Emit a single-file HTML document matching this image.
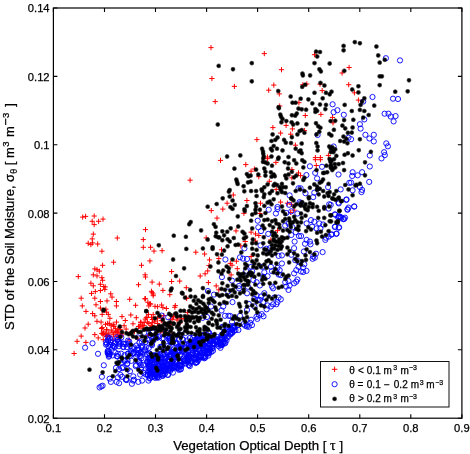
<!DOCTYPE html>
<html><head><meta charset="utf-8"><style>
html,body{margin:0;padding:0;background:#fff;width:470px;height:454px;overflow:hidden}
text{font-family:"Liberation Sans", sans-serif;stroke:#000;stroke-width:0.25px;paint-order:stroke}
</style></head><body>
<div style="position:absolute;left:0;top:0;width:470px;height:454px;will-change:transform"><svg width="470" height="454" viewBox="0 0 470 454" style="display:block"><defs><radialGradient id="sg"><stop offset="0" stop-color="#000"/><stop offset="0.45" stop-color="#000"/><stop offset="0.75" stop-color="#000" stop-opacity="0.55"/><stop offset="1" stop-color="#000" stop-opacity="0"/></radialGradient><circle id="st" r="2.8" fill="url(#sg)"/></defs><rect width="470" height="454" fill="#fff"/><path d="M208.4 47.6h5.2M211.0 45.0v5.2M209.3 78.5h5.2M211.9 75.9v5.2M231.8 86.4h5.2M234.4 83.8v5.2M212.6 101.6h5.2M215.2 99.0v5.2M311.9 54.7h5.2M314.5 52.1v5.2M261.7 53.6h5.2M264.3 51.0v5.2M278.9 69.7h5.2M281.5 67.1v5.2M346.5 67.5h5.2M349.1 64.9v5.2M339.5 73.0h5.2M342.1 70.4v5.2M271.2 85.1h5.2M273.8 82.5v5.2M266.1 90.2h5.2M268.7 87.6v5.2M300.3 84.7h5.2M302.9 82.1v5.2M304.2 84.0h5.2M306.8 81.4v5.2M317.4 84.2h5.2M320.0 81.6v5.2M319.6 90.6h5.2M322.2 88.0v5.2M346.1 84.7h5.2M348.7 82.1v5.2M276.7 93.9h5.2M279.3 91.3v5.2M296.3 102.7h5.2M298.9 100.1v5.2M277.1 106.0h5.2M279.7 103.4v5.2M351.8 92.8h5.2M354.4 90.2v5.2M355.8 100.1h5.2M358.4 97.5v5.2M217.9 160.4h5.2M220.5 157.8v5.2M243.2 164.6h5.2M245.8 162.0v5.2M187.5 180.2h5.2M190.1 177.6v5.2M230.7 195.0h5.2M233.3 192.4v5.2M224.5 203.2h5.2M227.1 200.6v5.2M244.3 200.5h5.2M246.9 197.9v5.2M80.1 217.1h5.2M82.7 214.5v5.2M83.0 216.4h5.2M85.6 213.8v5.2M91.6 216.0h5.2M94.2 213.4v5.2M89.6 221.3h5.2M92.2 218.7v5.2M96.0 221.3h5.2M98.6 218.7v5.2M100.4 219.1h5.2M103.0 216.5v5.2M91.6 224.6h5.2M94.2 222.0v5.2M142.9 229.6h5.2M145.5 227.0v5.2M90.7 234.1h5.2M93.3 231.5v5.2M89.6 238.9h5.2M92.2 236.3v5.2M114.7 238.0h5.2M117.3 235.4v5.2M140.7 239.6h5.2M143.3 237.0v5.2M85.6 243.3h5.2M88.2 240.7v5.2M88.3 244.6h5.2M90.9 242.0v5.2M90.0 242.9h5.2M92.6 240.3v5.2M95.1 244.0h5.2M97.7 241.4v5.2M140.7 247.3h5.2M143.3 244.7v5.2M148.0 247.3h5.2M150.6 244.7v5.2M99.3 251.2h5.2M101.9 248.6v5.2M111.0 262.2h5.2M113.6 259.6v5.2M147.3 260.9h5.2M149.9 258.3v5.2M138.9 265.3h5.2M141.5 262.7v5.2M100.0 265.3h5.2M102.6 262.7v5.2M92.2 268.9h5.2M94.8 266.3v5.2M96.7 271.1h5.2M99.3 268.5v5.2M94.4 269.7h5.2M97.0 267.1v5.2M75.7 276.6h5.2M78.3 274.0v5.2M90.7 274.8h5.2M93.3 272.2v5.2M94.4 275.9h5.2M97.0 273.3v5.2M99.3 277.7h5.2M101.9 275.1v5.2M100.0 280.3h5.2M102.6 277.7v5.2M142.5 274.8h5.2M145.1 272.2v5.2M142.9 277.0h5.2M145.5 274.4v5.2M88.3 283.2h5.2M90.9 280.6v5.2M90.7 285.8h5.2M93.3 283.2v5.2M97.8 284.3h5.2M100.4 281.7v5.2M101.1 286.5h5.2M103.7 283.9v5.2M102.6 286.9h5.2M105.2 284.3v5.2M135.9 284.7h5.2M138.5 282.1v5.2M149.5 282.1h5.2M152.1 279.5v5.2M92.7 291.6h5.2M95.3 289.0v5.2M88.9 293.4h5.2M91.5 290.8v5.2M78.6 298.2h5.2M81.2 295.6v5.2M92.2 298.2h5.2M94.8 295.6v5.2M79.7 305.9h5.2M82.3 303.3v5.2M93.4 304.8h5.2M96.0 302.2v5.2M83.4 311.4h5.2M86.0 308.8v5.2M90.0 313.6h5.2M92.6 311.0v5.2M92.2 315.8h5.2M94.8 313.2v5.2M85.6 324.2h5.2M88.2 321.6v5.2M94.4 321.3h5.2M97.0 318.7v5.2M82.4 328.0h5.2M85.0 325.4v5.2M78.6 336.1h5.2M81.2 333.5v5.2M92.2 334.6h5.2M94.8 332.0v5.2M95.6 337.9h5.2M98.2 335.3v5.2M97.8 290.5h5.2M100.4 287.9v5.2M102.2 289.4h5.2M104.8 286.8v5.2M108.1 293.8h5.2M110.7 291.2v5.2M104.4 300.9h5.2M107.0 298.3v5.2M109.4 297.1h5.2M112.0 294.5v5.2M113.8 301.5h5.2M116.4 298.9v5.2M97.8 301.5h5.2M100.4 298.9v5.2M113.8 305.9h5.2M116.4 303.3v5.2M127.1 299.3h5.2M129.7 296.7v5.2M133.0 305.3h5.2M135.6 302.7v5.2M142.9 298.7h5.2M145.5 296.1v5.2M147.3 303.7h5.2M149.9 301.1v5.2M149.5 292.7h5.2M152.1 290.1v5.2M97.8 308.1h5.2M100.4 305.5v5.2M103.3 309.2h5.2M105.9 306.6v5.2M74.5 341.3h5.2M77.1 338.7v5.2M83.3 342.4h5.2M85.9 339.8v5.2M71.5 353.5h5.2M74.1 350.9v5.2M99.6 314.4h5.2M102.2 311.8v5.2M104.0 312.2h5.2M106.6 309.6v5.2M105.7 314.4h5.2M108.3 311.8v5.2M119.4 316.6h5.2M122.0 314.0v5.2M128.2 315.0h5.2M130.8 312.4v5.2M133.7 317.7h5.2M136.3 315.1v5.2M122.7 320.5h5.2M125.3 317.9v5.2M138.1 322.1h5.2M140.7 319.5v5.2M130.4 323.8h5.2M133.0 321.2v5.2M143.7 317.7h5.2M146.3 315.1v5.2M145.9 314.4h5.2M148.5 311.8v5.2M107.3 318.3h5.2M109.9 315.7v5.2M113.9 322.1h5.2M116.5 319.5v5.2M110.6 324.3h5.2M113.2 321.7v5.2M106.8 323.8h5.2M109.4 321.2v5.2M99.6 327.6h5.2M102.2 325.0v5.2M102.9 324.3h5.2M105.5 321.7v5.2M100.7 332.0h5.2M103.3 329.4v5.2M104.0 329.8h5.2M106.6 327.2v5.2M106.2 333.1h5.2M108.8 330.5v5.2M109.5 332.0h5.2M112.1 329.4v5.2M112.8 328.7h5.2M115.4 326.1v5.2M100.7 339.7h5.2M103.3 337.1v5.2M104.0 336.4h5.2M106.6 333.8v5.2M107.3 336.4h5.2M109.9 333.8v5.2M135.9 326.5h5.2M138.5 323.9v5.2M141.5 325.4h5.2M144.1 322.8v5.2M144.8 322.1h5.2M147.4 319.5v5.2M117.2 327.6h5.2M119.8 325.0v5.2M115.0 332.0h5.2M117.6 329.4v5.2M98.5 322.1h5.2M101.1 319.5v5.2M145.9 335.3h5.2M148.5 332.7v5.2M203.6 237.9h5.2M206.2 235.3v5.2M151.4 251.1h5.2M154.0 248.5v5.2M159.5 250.7h5.2M162.1 248.1v5.2M193.2 252.2h5.2M195.8 249.6v5.2M202.0 254.0h5.2M204.6 251.4v5.2M206.9 259.9h5.2M209.5 257.3v5.2M206.4 265.6h5.2M209.0 263.0v5.2M169.0 271.6h5.2M171.6 269.0v5.2M205.1 270.9h5.2M207.7 268.3v5.2M197.6 276.0h5.2M200.2 273.4v5.2M202.5 273.8h5.2M205.1 271.2v5.2M156.7 284.1h5.2M159.3 281.5v5.2M169.0 281.5h5.2M171.6 278.9v5.2M177.1 281.1h5.2M179.7 278.5v5.2M205.8 282.6h5.2M208.4 280.0v5.2M167.2 294.7h5.2M169.8 292.1v5.2M183.7 287.7h5.2M186.3 285.1v5.2M183.7 298.0h5.2M186.3 295.4v5.2M160.3 290.4h5.2M162.9 287.8v5.2M142.2 298.8h5.2M144.8 296.2v5.2M145.3 302.3h5.2M147.9 299.7v5.2M148.0 304.1h5.2M150.6 301.5v5.2M146.2 305.9h5.2M148.8 303.3v5.2M152.4 306.3h5.2M155.0 303.7v5.2M155.0 306.7h5.2M157.6 304.1v5.2M159.0 305.0h5.2M161.6 302.4v5.2M160.3 307.6h5.2M162.9 305.0v5.2M163.8 308.5h5.2M166.4 305.9v5.2M150.6 314.7h5.2M153.2 312.1v5.2M144.4 317.3h5.2M147.0 314.7v5.2M142.7 319.1h5.2M145.3 316.5v5.2M148.9 317.3h5.2M151.5 314.7v5.2M155.0 318.2h5.2M157.6 315.6v5.2M159.4 318.2h5.2M162.0 315.6v5.2M159.4 320.8h5.2M162.0 318.2v5.2M138.3 322.6h5.2M140.9 320.0v5.2M140.0 325.2h5.2M142.6 322.6v5.2M146.2 323.5h5.2M148.8 320.9v5.2M149.7 322.6h5.2M152.3 320.0v5.2M155.0 323.5h5.2M157.6 320.9v5.2M168.2 319.1h5.2M170.8 316.5v5.2M138.3 327.0h5.2M140.9 324.4v5.2M140.9 328.8h5.2M143.5 326.2v5.2M161.2 315.6h5.2M163.8 313.0v5.2M148.9 291.3h5.2M151.5 288.7v5.2M150.6 294.0h5.2M153.2 291.4v5.2M150.6 295.7h5.2M153.2 293.1v5.2M184.1 298.5h5.2M186.7 295.9v5.2M172.7 305.6h5.2M175.3 303.0v5.2M172.2 307.3h5.2M174.8 304.7v5.2M185.0 312.6h5.2M187.6 310.0v5.2M170.9 317.0h5.2M173.5 314.4v5.2M175.3 317.9h5.2M177.9 315.3v5.2M178.9 318.8h5.2M181.5 316.2v5.2M170.9 316.4h5.2M173.5 313.8v5.2M174.4 320.0h5.2M177.0 317.4v5.2M208.7 210.6h5.2M211.3 208.0v5.2M220.2 209.1h5.2M222.8 206.5v5.2M241.3 213.3h5.2M243.9 210.7v5.2M214.4 218.1h5.2M217.0 215.5v5.2M233.4 230.9h5.2M236.0 228.3v5.2M242.6 241.5h5.2M245.2 238.9v5.2M238.2 245.9h5.2M240.8 243.3v5.2M218.9 249.8h5.2M221.5 247.2v5.2M216.2 258.6h5.2M218.8 256.0v5.2M233.8 261.2h5.2M236.4 258.6v5.2M227.7 263.4h5.2M230.3 260.8v5.2M229.4 265.2h5.2M232.0 262.6v5.2M234.7 268.7h5.2M237.3 266.1v5.2M228.5 274.9h5.2M231.1 272.3v5.2M213.6 285.9h5.2M216.2 283.3v5.2M216.2 289.8h5.2M218.8 287.2v5.2M283.5 125.4h5.2M286.1 122.8v5.2M270.3 127.6h5.2M272.9 125.0v5.2M289.8 128.9h5.2M292.4 126.3v5.2M278.0 133.1h5.2M280.6 130.5v5.2M288.1 134.2h5.2M290.7 131.6v5.2M254.3 139.6h5.2M256.9 137.0v5.2M292.8 145.2h5.2M295.4 142.6v5.2M264.8 157.0h5.2M267.4 154.4v5.2M302.7 115.5h5.2M305.3 112.9v5.2M318.3 114.4h5.2M320.9 111.8v5.2M329.9 117.4h5.2M332.5 114.8v5.2M330.4 122.9h5.2M333.0 120.3v5.2M301.8 130.6h5.2M304.4 128.0v5.2M325.8 155.4h5.2M328.4 152.8v5.2M312.8 157.6h5.2M315.4 155.0v5.2M317.8 157.6h5.2M320.4 155.0v5.2M265.0 158.6h5.2M267.6 156.0v5.2M273.3 162.4h5.2M275.9 159.8v5.2M251.8 169.0h5.2M254.4 166.4v5.2M248.5 171.2h5.2M251.1 168.6v5.2M289.3 169.6h5.2M291.9 167.0v5.2M295.9 172.9h5.2M298.5 170.3v5.2M256.2 176.7h5.2M258.8 174.1v5.2M289.3 177.8h5.2M291.9 175.2v5.2M266.7 181.3h5.2M269.3 178.7v5.2M273.6 189.4h5.2M276.2 186.8v5.2M257.9 203.2h5.2M260.5 200.6v5.2M278.0 202.1h5.2M280.6 199.5v5.2M284.8 203.2h5.2M287.4 200.6v5.2M288.7 204.3h5.2M291.3 201.7v5.2M312.8 159.7h5.2M315.4 157.1v5.2M317.8 159.7h5.2M320.4 157.1v5.2M313.7 165.5h5.2M316.3 162.9v5.2M298.0 175.6h5.2M300.6 173.0v5.2M257.3 213.5h5.2M259.9 210.9v5.2M291.5 210.2h5.2M294.1 207.6v5.2M288.1 212.4h5.2M290.7 209.8v5.2M274.9 230.6h5.2M277.5 228.0v5.2M252.9 233.9h5.2M255.5 231.3v5.2M256.2 235.5h5.2M258.8 232.9v5.2M248.5 232.2h5.2M251.1 229.6v5.2M252.9 241.0h5.2M255.5 238.4v5.2M268.3 239.9h5.2M270.9 237.3v5.2M248.5 256.5h5.2M251.1 253.9v5.2M158.7 320.6h5.2M161.3 318.0v5.2M170.2 319.2h5.2M172.8 316.6v5.2M166.2 324.2h5.2M168.8 321.6v5.2M149.4 326.6h5.2M152.0 324.0v5.2M148.7 325.4h5.2M151.3 322.8v5.2M149.8 319.5h5.2M152.4 316.9v5.2M162.3 332.1h5.2M164.9 329.5v5.2M151.7 321.8h5.2M154.3 319.2v5.2M169.4 334.1h5.2M172.0 331.5v5.2M167.6 324.7h5.2M170.2 322.1v5.2M181.6 318.8h5.2M184.2 316.2v5.2M177.4 322.9h5.2M180.0 320.3v5.2M152.4 320.0h5.2M155.0 317.4v5.2M158.2 331.9h5.2M160.8 329.3v5.2M153.7 327.9h5.2M156.3 325.3v5.2M113.4 331.3h5.2M116.0 328.7v5.2M111.1 326.1h5.2M113.7 323.5v5.2M98.9 328.5h5.2M101.5 325.9v5.2M114.4 332.3h5.2M117.0 329.7v5.2M105.3 335.0h5.2M107.9 332.4v5.2M108.7 330.1h5.2M111.3 327.5v5.2M117.3 336.9h5.2M119.9 334.3v5.2M103.5 334.8h5.2M106.1 332.2v5.2M110.5 339.9h5.2M113.1 337.3v5.2M115.6 329.9h5.2M118.2 327.3v5.2M141.5 322.4h5.2M144.1 319.8v5.2M116.2 335.1h5.2M118.8 332.5v5.2M104.2 329.8h5.2M106.8 327.2v5.2M99.2 333.4h5.2M101.8 330.8v5.2M131.8 331.5h5.2M134.4 328.9v5.2M136.8 326.3h5.2M139.4 323.7v5.2M128.7 331.9h5.2M131.3 329.3v5.2M123.5 329.1h5.2M126.1 326.5v5.2M135.2 338.9h5.2M137.8 336.3v5.2M118.7 333.3h5.2M121.3 330.7v5.2M100.1 334.0h5.2M102.7 331.4v5.2M126.5 339.9h5.2M129.1 337.3v5.2M118.1 335.9h5.2M120.7 333.3v5.2M111.4 326.4h5.2M114.0 323.8v5.2M119.2 334.9h5.2M121.8 332.3v5.2M114.6 336.6h5.2M117.2 334.0v5.2M105.1 323.4h5.2M107.7 320.8v5.2M110.9 334.8h5.2M113.5 332.2v5.2M101.0 334.0h5.2M103.6 331.4v5.2M121.5 325.7h5.2M124.1 323.1v5.2M112.4 332.8h5.2M115.0 330.2v5.2M108.4 325.3h5.2M111.0 322.7v5.2M102.5 334.0h5.2M105.1 331.4v5.2M117.6 329.4h5.2M120.2 326.8v5.2" stroke="#ff0000" stroke-width="1" fill="none"/><path d="M330.0 104.3a2.6 2.6 0 1 0 5.2 0a2.6 2.6 0 1 0 -5.2 0M383.3 58.2a2.6 2.6 0 1 0 5.2 0a2.6 2.6 0 1 0 -5.2 0M397.4 60.4a2.6 2.6 0 1 0 5.2 0a2.6 2.6 0 1 0 -5.2 0M369.9 97.0a2.6 2.6 0 1 0 5.2 0a2.6 2.6 0 1 0 -5.2 0M390.4 98.7a2.6 2.6 0 1 0 5.2 0a2.6 2.6 0 1 0 -5.2 0M395.4 99.0a2.6 2.6 0 1 0 5.2 0a2.6 2.6 0 1 0 -5.2 0M360.6 101.6a2.6 2.6 0 1 0 5.2 0a2.6 2.6 0 1 0 -5.2 0M382.0 113.7a2.6 2.6 0 1 0 5.2 0a2.6 2.6 0 1 0 -5.2 0M385.9 113.7a2.6 2.6 0 1 0 5.2 0a2.6 2.6 0 1 0 -5.2 0M388.1 116.5a2.6 2.6 0 1 0 5.2 0a2.6 2.6 0 1 0 -5.2 0M393.0 116.1a2.6 2.6 0 1 0 5.2 0a2.6 2.6 0 1 0 -5.2 0M391.0 121.4a2.6 2.6 0 1 0 5.2 0a2.6 2.6 0 1 0 -5.2 0M361.7 119.4a2.6 2.6 0 1 0 5.2 0a2.6 2.6 0 1 0 -5.2 0M357.3 124.2a2.6 2.6 0 1 0 5.2 0a2.6 2.6 0 1 0 -5.2 0M358.0 128.6a2.6 2.6 0 1 0 5.2 0a2.6 2.6 0 1 0 -5.2 0M362.8 134.8a2.6 2.6 0 1 0 5.2 0a2.6 2.6 0 1 0 -5.2 0M366.8 138.5a2.6 2.6 0 1 0 5.2 0a2.6 2.6 0 1 0 -5.2 0M371.2 134.8a2.6 2.6 0 1 0 5.2 0a2.6 2.6 0 1 0 -5.2 0M371.2 141.4a2.6 2.6 0 1 0 5.2 0a2.6 2.6 0 1 0 -5.2 0M348.5 139.2a2.6 2.6 0 1 0 5.2 0a2.6 2.6 0 1 0 -5.2 0M383.7 143.4a2.6 2.6 0 1 0 5.2 0a2.6 2.6 0 1 0 -5.2 0M385.3 146.3a2.6 2.6 0 1 0 5.2 0a2.6 2.6 0 1 0 -5.2 0M381.5 152.2a2.6 2.6 0 1 0 5.2 0a2.6 2.6 0 1 0 -5.2 0M382.2 155.1a2.6 2.6 0 1 0 5.2 0a2.6 2.6 0 1 0 -5.2 0M367.2 155.5a2.6 2.6 0 1 0 5.2 0a2.6 2.6 0 1 0 -5.2 0M378.9 158.4a2.6 2.6 0 1 0 5.2 0a2.6 2.6 0 1 0 -5.2 0M367.2 166.5a2.6 2.6 0 1 0 5.2 0a2.6 2.6 0 1 0 -5.2 0M350.0 172.2a2.6 2.6 0 1 0 5.2 0a2.6 2.6 0 1 0 -5.2 0M359.5 172.2a2.6 2.6 0 1 0 5.2 0a2.6 2.6 0 1 0 -5.2 0M355.1 175.3a2.6 2.6 0 1 0 5.2 0a2.6 2.6 0 1 0 -5.2 0M349.6 176.0a2.6 2.6 0 1 0 5.2 0a2.6 2.6 0 1 0 -5.2 0M366.6 181.9a2.6 2.6 0 1 0 5.2 0a2.6 2.6 0 1 0 -5.2 0M348.5 182.6a2.6 2.6 0 1 0 5.2 0a2.6 2.6 0 1 0 -5.2 0M357.3 187.0a2.6 2.6 0 1 0 5.2 0a2.6 2.6 0 1 0 -5.2 0M359.5 189.9a2.6 2.6 0 1 0 5.2 0a2.6 2.6 0 1 0 -5.2 0M358.9 192.1a2.6 2.6 0 1 0 5.2 0a2.6 2.6 0 1 0 -5.2 0M350.0 190.3a2.6 2.6 0 1 0 5.2 0a2.6 2.6 0 1 0 -5.2 0M343.9 199.4a2.6 2.6 0 1 0 5.2 0a2.6 2.6 0 1 0 -5.2 0M336.2 203.4a2.6 2.6 0 1 0 5.2 0a2.6 2.6 0 1 0 -5.2 0M328.1 204.9a2.6 2.6 0 1 0 5.2 0a2.6 2.6 0 1 0 -5.2 0M351.6 206.5a2.6 2.6 0 1 0 5.2 0a2.6 2.6 0 1 0 -5.2 0M345.0 209.3a2.6 2.6 0 1 0 5.2 0a2.6 2.6 0 1 0 -5.2 0M332.2 214.4a2.6 2.6 0 1 0 5.2 0a2.6 2.6 0 1 0 -5.2 0M336.2 216.6a2.6 2.6 0 1 0 5.2 0a2.6 2.6 0 1 0 -5.2 0M338.0 217.0a2.6 2.6 0 1 0 5.2 0a2.6 2.6 0 1 0 -5.2 0M342.4 217.7a2.6 2.6 0 1 0 5.2 0a2.6 2.6 0 1 0 -5.2 0M340.6 219.2a2.6 2.6 0 1 0 5.2 0a2.6 2.6 0 1 0 -5.2 0M332.2 226.9a2.6 2.6 0 1 0 5.2 0a2.6 2.6 0 1 0 -5.2 0M336.2 227.6a2.6 2.6 0 1 0 5.2 0a2.6 2.6 0 1 0 -5.2 0M328.5 234.6a2.6 2.6 0 1 0 5.2 0a2.6 2.6 0 1 0 -5.2 0M334.0 233.5a2.6 2.6 0 1 0 5.2 0a2.6 2.6 0 1 0 -5.2 0M351.6 206.5a2.6 2.6 0 1 0 5.2 0a2.6 2.6 0 1 0 -5.2 0M89.9 343.3a2.6 2.6 0 1 0 5.2 0a2.6 2.6 0 1 0 -5.2 0M82.5 347.7a2.6 2.6 0 1 0 5.2 0a2.6 2.6 0 1 0 -5.2 0M95.4 353.8a2.6 2.6 0 1 0 5.2 0a2.6 2.6 0 1 0 -5.2 0M97.0 387.4a2.6 2.6 0 1 0 5.2 0a2.6 2.6 0 1 0 -5.2 0M105.1 351.3a2.6 2.6 0 1 0 5.2 0a2.6 2.6 0 1 0 -5.2 0M101.2 365.3a2.6 2.6 0 1 0 5.2 0a2.6 2.6 0 1 0 -5.2 0M99.3 376.8a2.6 2.6 0 1 0 5.2 0a2.6 2.6 0 1 0 -5.2 0M98.7 386.4a2.6 2.6 0 1 0 5.2 0a2.6 2.6 0 1 0 -5.2 0M100.0 385.7a2.6 2.6 0 1 0 5.2 0a2.6 2.6 0 1 0 -5.2 0M107.0 378.7a2.6 2.6 0 1 0 5.2 0a2.6 2.6 0 1 0 -5.2 0M108.3 381.9a2.6 2.6 0 1 0 5.2 0a2.6 2.6 0 1 0 -5.2 0M114.0 381.9a2.6 2.6 0 1 0 5.2 0a2.6 2.6 0 1 0 -5.2 0M116.5 383.2a2.6 2.6 0 1 0 5.2 0a2.6 2.6 0 1 0 -5.2 0M115.3 377.4a2.6 2.6 0 1 0 5.2 0a2.6 2.6 0 1 0 -5.2 0M117.8 374.9a2.6 2.6 0 1 0 5.2 0a2.6 2.6 0 1 0 -5.2 0M113.4 367.9a2.6 2.6 0 1 0 5.2 0a2.6 2.6 0 1 0 -5.2 0M116.5 369.1a2.6 2.6 0 1 0 5.2 0a2.6 2.6 0 1 0 -5.2 0M117.8 359.6a2.6 2.6 0 1 0 5.2 0a2.6 2.6 0 1 0 -5.2 0M119.1 362.8a2.6 2.6 0 1 0 5.2 0a2.6 2.6 0 1 0 -5.2 0M112.7 352.6a2.6 2.6 0 1 0 5.2 0a2.6 2.6 0 1 0 -5.2 0M115.3 353.8a2.6 2.6 0 1 0 5.2 0a2.6 2.6 0 1 0 -5.2 0M124.2 380.0a2.6 2.6 0 1 0 5.2 0a2.6 2.6 0 1 0 -5.2 0M129.3 383.8a2.6 2.6 0 1 0 5.2 0a2.6 2.6 0 1 0 -5.2 0M130.6 380.6a2.6 2.6 0 1 0 5.2 0a2.6 2.6 0 1 0 -5.2 0M145.9 380.6a2.6 2.6 0 1 0 5.2 0a2.6 2.6 0 1 0 -5.2 0M135.7 381.9a2.6 2.6 0 1 0 5.2 0a2.6 2.6 0 1 0 -5.2 0M139.5 380.6a2.6 2.6 0 1 0 5.2 0a2.6 2.6 0 1 0 -5.2 0M105.9 346.1a2.6 2.6 0 1 0 5.2 0a2.6 2.6 0 1 0 -5.2 0M105.3 351.0a2.6 2.6 0 1 0 5.2 0a2.6 2.6 0 1 0 -5.2 0M159.0 315.6a2.6 2.6 0 1 0 5.2 0a2.6 2.6 0 1 0 -5.2 0M165.6 317.3a2.6 2.6 0 1 0 5.2 0a2.6 2.6 0 1 0 -5.2 0M205.3 291.0a2.6 2.6 0 1 0 5.2 0a2.6 2.6 0 1 0 -5.2 0M200.0 317.9a2.6 2.6 0 1 0 5.2 0a2.6 2.6 0 1 0 -5.2 0M204.4 317.0a2.6 2.6 0 1 0 5.2 0a2.6 2.6 0 1 0 -5.2 0M241.8 248.4a2.6 2.6 0 1 0 5.2 0a2.6 2.6 0 1 0 -5.2 0M222.8 259.5a2.6 2.6 0 1 0 5.2 0a2.6 2.6 0 1 0 -5.2 0M237.4 257.3a2.6 2.6 0 1 0 5.2 0a2.6 2.6 0 1 0 -5.2 0M240.4 258.6a2.6 2.6 0 1 0 5.2 0a2.6 2.6 0 1 0 -5.2 0M244.4 259.0a2.6 2.6 0 1 0 5.2 0a2.6 2.6 0 1 0 -5.2 0M243.5 270.9a2.6 2.6 0 1 0 5.2 0a2.6 2.6 0 1 0 -5.2 0M219.3 277.1a2.6 2.6 0 1 0 5.2 0a2.6 2.6 0 1 0 -5.2 0M229.4 280.6a2.6 2.6 0 1 0 5.2 0a2.6 2.6 0 1 0 -5.2 0M236.5 285.9a2.6 2.6 0 1 0 5.2 0a2.6 2.6 0 1 0 -5.2 0M245.3 286.8a2.6 2.6 0 1 0 5.2 0a2.6 2.6 0 1 0 -5.2 0M225.5 291.5a2.6 2.6 0 1 0 5.2 0a2.6 2.6 0 1 0 -5.2 0M236.5 288.4a2.6 2.6 0 1 0 5.2 0a2.6 2.6 0 1 0 -5.2 0M244.4 293.3a2.6 2.6 0 1 0 5.2 0a2.6 2.6 0 1 0 -5.2 0M211.4 294.6a2.6 2.6 0 1 0 5.2 0a2.6 2.6 0 1 0 -5.2 0M229.9 302.1a2.6 2.6 0 1 0 5.2 0a2.6 2.6 0 1 0 -5.2 0M246.2 303.9a2.6 2.6 0 1 0 5.2 0a2.6 2.6 0 1 0 -5.2 0M220.6 306.5a2.6 2.6 0 1 0 5.2 0a2.6 2.6 0 1 0 -5.2 0M218.9 310.5a2.6 2.6 0 1 0 5.2 0a2.6 2.6 0 1 0 -5.2 0M208.3 306.5a2.6 2.6 0 1 0 5.2 0a2.6 2.6 0 1 0 -5.2 0M244.4 310.0a2.6 2.6 0 1 0 5.2 0a2.6 2.6 0 1 0 -5.2 0M222.4 315.8a2.6 2.6 0 1 0 5.2 0a2.6 2.6 0 1 0 -5.2 0M225.9 315.8a2.6 2.6 0 1 0 5.2 0a2.6 2.6 0 1 0 -5.2 0M227.7 316.0a2.6 2.6 0 1 0 5.2 0a2.6 2.6 0 1 0 -5.2 0M237.4 315.8a2.6 2.6 0 1 0 5.2 0a2.6 2.6 0 1 0 -5.2 0M229.4 321.9a2.6 2.6 0 1 0 5.2 0a2.6 2.6 0 1 0 -5.2 0M219.7 326.8a2.6 2.6 0 1 0 5.2 0a2.6 2.6 0 1 0 -5.2 0M225.0 326.8a2.6 2.6 0 1 0 5.2 0a2.6 2.6 0 1 0 -5.2 0M240.9 324.1a2.6 2.6 0 1 0 5.2 0a2.6 2.6 0 1 0 -5.2 0M244.4 325.0a2.6 2.6 0 1 0 5.2 0a2.6 2.6 0 1 0 -5.2 0M246.2 326.8a2.6 2.6 0 1 0 5.2 0a2.6 2.6 0 1 0 -5.2 0M331.0 112.2a2.6 2.6 0 1 0 5.2 0a2.6 2.6 0 1 0 -5.2 0M334.8 110.2a2.6 2.6 0 1 0 5.2 0a2.6 2.6 0 1 0 -5.2 0M341.2 114.8a2.6 2.6 0 1 0 5.2 0a2.6 2.6 0 1 0 -5.2 0M315.0 135.0a2.6 2.6 0 1 0 5.2 0a2.6 2.6 0 1 0 -5.2 0M345.9 137.7a2.6 2.6 0 1 0 5.2 0a2.6 2.6 0 1 0 -5.2 0M331.0 146.5a2.6 2.6 0 1 0 5.2 0a2.6 2.6 0 1 0 -5.2 0M295.9 188.3a2.6 2.6 0 1 0 5.2 0a2.6 2.6 0 1 0 -5.2 0M287.0 195.4a2.6 2.6 0 1 0 5.2 0a2.6 2.6 0 1 0 -5.2 0M274.9 207.0a2.6 2.6 0 1 0 5.2 0a2.6 2.6 0 1 0 -5.2 0M286.5 204.8a2.6 2.6 0 1 0 5.2 0a2.6 2.6 0 1 0 -5.2 0M297.0 202.1a2.6 2.6 0 1 0 5.2 0a2.6 2.6 0 1 0 -5.2 0M307.3 166.3a2.6 2.6 0 1 0 5.2 0a2.6 2.6 0 1 0 -5.2 0M319.4 166.8a2.6 2.6 0 1 0 5.2 0a2.6 2.6 0 1 0 -5.2 0M312.6 172.9a2.6 2.6 0 1 0 5.2 0a2.6 2.6 0 1 0 -5.2 0M335.9 174.5a2.6 2.6 0 1 0 5.2 0a2.6 2.6 0 1 0 -5.2 0M303.8 175.1a2.6 2.6 0 1 0 5.2 0a2.6 2.6 0 1 0 -5.2 0M314.5 178.4a2.6 2.6 0 1 0 5.2 0a2.6 2.6 0 1 0 -5.2 0M325.5 187.2a2.6 2.6 0 1 0 5.2 0a2.6 2.6 0 1 0 -5.2 0M346.7 182.8a2.6 2.6 0 1 0 5.2 0a2.6 2.6 0 1 0 -5.2 0M338.1 189.4a2.6 2.6 0 1 0 5.2 0a2.6 2.6 0 1 0 -5.2 0M298.0 188.3a2.6 2.6 0 1 0 5.2 0a2.6 2.6 0 1 0 -5.2 0M302.9 193.2a2.6 2.6 0 1 0 5.2 0a2.6 2.6 0 1 0 -5.2 0M311.7 192.7a2.6 2.6 0 1 0 5.2 0a2.6 2.6 0 1 0 -5.2 0M310.6 197.1a2.6 2.6 0 1 0 5.2 0a2.6 2.6 0 1 0 -5.2 0M343.7 199.9a2.6 2.6 0 1 0 5.2 0a2.6 2.6 0 1 0 -5.2 0M335.9 202.6a2.6 2.6 0 1 0 5.2 0a2.6 2.6 0 1 0 -5.2 0M326.6 204.3a2.6 2.6 0 1 0 5.2 0a2.6 2.6 0 1 0 -5.2 0M298.0 203.2a2.6 2.6 0 1 0 5.2 0a2.6 2.6 0 1 0 -5.2 0M345.9 207.6a2.6 2.6 0 1 0 5.2 0a2.6 2.6 0 1 0 -5.2 0M266.1 209.7a2.6 2.6 0 1 0 5.2 0a2.6 2.6 0 1 0 -5.2 0M274.9 209.1a2.6 2.6 0 1 0 5.2 0a2.6 2.6 0 1 0 -5.2 0M273.3 213.5a2.6 2.6 0 1 0 5.2 0a2.6 2.6 0 1 0 -5.2 0M283.7 213.0a2.6 2.6 0 1 0 5.2 0a2.6 2.6 0 1 0 -5.2 0M288.7 211.3a2.6 2.6 0 1 0 5.2 0a2.6 2.6 0 1 0 -5.2 0M294.8 213.5a2.6 2.6 0 1 0 5.2 0a2.6 2.6 0 1 0 -5.2 0M255.1 220.7a2.6 2.6 0 1 0 5.2 0a2.6 2.6 0 1 0 -5.2 0M255.7 227.3a2.6 2.6 0 1 0 5.2 0a2.6 2.6 0 1 0 -5.2 0M258.4 231.1a2.6 2.6 0 1 0 5.2 0a2.6 2.6 0 1 0 -5.2 0M282.6 225.6a2.6 2.6 0 1 0 5.2 0a2.6 2.6 0 1 0 -5.2 0M285.9 223.4a2.6 2.6 0 1 0 5.2 0a2.6 2.6 0 1 0 -5.2 0M289.8 227.3a2.6 2.6 0 1 0 5.2 0a2.6 2.6 0 1 0 -5.2 0M293.1 232.2a2.6 2.6 0 1 0 5.2 0a2.6 2.6 0 1 0 -5.2 0M265.6 233.9a2.6 2.6 0 1 0 5.2 0a2.6 2.6 0 1 0 -5.2 0M288.7 235.0a2.6 2.6 0 1 0 5.2 0a2.6 2.6 0 1 0 -5.2 0M296.4 236.1a2.6 2.6 0 1 0 5.2 0a2.6 2.6 0 1 0 -5.2 0M292.0 241.6a2.6 2.6 0 1 0 5.2 0a2.6 2.6 0 1 0 -5.2 0M257.9 245.4a2.6 2.6 0 1 0 5.2 0a2.6 2.6 0 1 0 -5.2 0M263.9 248.7a2.6 2.6 0 1 0 5.2 0a2.6 2.6 0 1 0 -5.2 0M267.2 248.2a2.6 2.6 0 1 0 5.2 0a2.6 2.6 0 1 0 -5.2 0M291.5 248.2a2.6 2.6 0 1 0 5.2 0a2.6 2.6 0 1 0 -5.2 0M279.3 255.4a2.6 2.6 0 1 0 5.2 0a2.6 2.6 0 1 0 -5.2 0M288.7 254.8a2.6 2.6 0 1 0 5.2 0a2.6 2.6 0 1 0 -5.2 0M276.0 255.9a2.6 2.6 0 1 0 5.2 0a2.6 2.6 0 1 0 -5.2 0M326.0 208.6a2.6 2.6 0 1 0 5.2 0a2.6 2.6 0 1 0 -5.2 0M344.8 209.7a2.6 2.6 0 1 0 5.2 0a2.6 2.6 0 1 0 -5.2 0M332.6 214.6a2.6 2.6 0 1 0 5.2 0a2.6 2.6 0 1 0 -5.2 0M336.5 216.3a2.6 2.6 0 1 0 5.2 0a2.6 2.6 0 1 0 -5.2 0M338.7 217.9a2.6 2.6 0 1 0 5.2 0a2.6 2.6 0 1 0 -5.2 0M341.5 219.0a2.6 2.6 0 1 0 5.2 0a2.6 2.6 0 1 0 -5.2 0M335.4 217.4a2.6 2.6 0 1 0 5.2 0a2.6 2.6 0 1 0 -5.2 0M304.0 223.4a2.6 2.6 0 1 0 5.2 0a2.6 2.6 0 1 0 -5.2 0M308.4 220.1a2.6 2.6 0 1 0 5.2 0a2.6 2.6 0 1 0 -5.2 0M311.7 221.8a2.6 2.6 0 1 0 5.2 0a2.6 2.6 0 1 0 -5.2 0M316.7 223.4a2.6 2.6 0 1 0 5.2 0a2.6 2.6 0 1 0 -5.2 0M320.5 224.5a2.6 2.6 0 1 0 5.2 0a2.6 2.6 0 1 0 -5.2 0M309.5 226.7a2.6 2.6 0 1 0 5.2 0a2.6 2.6 0 1 0 -5.2 0M313.9 228.4a2.6 2.6 0 1 0 5.2 0a2.6 2.6 0 1 0 -5.2 0M317.8 228.4a2.6 2.6 0 1 0 5.2 0a2.6 2.6 0 1 0 -5.2 0M332.6 226.7a2.6 2.6 0 1 0 5.2 0a2.6 2.6 0 1 0 -5.2 0M336.5 227.3a2.6 2.6 0 1 0 5.2 0a2.6 2.6 0 1 0 -5.2 0M298.5 236.1a2.6 2.6 0 1 0 5.2 0a2.6 2.6 0 1 0 -5.2 0M304.0 239.9a2.6 2.6 0 1 0 5.2 0a2.6 2.6 0 1 0 -5.2 0M307.3 241.6a2.6 2.6 0 1 0 5.2 0a2.6 2.6 0 1 0 -5.2 0M302.4 243.8a2.6 2.6 0 1 0 5.2 0a2.6 2.6 0 1 0 -5.2 0M307.9 244.3a2.6 2.6 0 1 0 5.2 0a2.6 2.6 0 1 0 -5.2 0M329.3 234.4a2.6 2.6 0 1 0 5.2 0a2.6 2.6 0 1 0 -5.2 0M333.7 233.9a2.6 2.6 0 1 0 5.2 0a2.6 2.6 0 1 0 -5.2 0M323.3 237.7a2.6 2.6 0 1 0 5.2 0a2.6 2.6 0 1 0 -5.2 0M326.0 236.6a2.6 2.6 0 1 0 5.2 0a2.6 2.6 0 1 0 -5.2 0M322.7 239.9a2.6 2.6 0 1 0 5.2 0a2.6 2.6 0 1 0 -5.2 0M301.3 251.5a2.6 2.6 0 1 0 5.2 0a2.6 2.6 0 1 0 -5.2 0M320.0 252.1a2.6 2.6 0 1 0 5.2 0a2.6 2.6 0 1 0 -5.2 0M313.4 253.7a2.6 2.6 0 1 0 5.2 0a2.6 2.6 0 1 0 -5.2 0M310.6 256.5a2.6 2.6 0 1 0 5.2 0a2.6 2.6 0 1 0 -5.2 0M248.5 266.8a2.6 2.6 0 1 0 5.2 0a2.6 2.6 0 1 0 -5.2 0M249.6 271.2a2.6 2.6 0 1 0 5.2 0a2.6 2.6 0 1 0 -5.2 0M250.7 280.0a2.6 2.6 0 1 0 5.2 0a2.6 2.6 0 1 0 -5.2 0M254.0 282.2a2.6 2.6 0 1 0 5.2 0a2.6 2.6 0 1 0 -5.2 0M257.3 285.5a2.6 2.6 0 1 0 5.2 0a2.6 2.6 0 1 0 -5.2 0M259.5 266.8a2.6 2.6 0 1 0 5.2 0a2.6 2.6 0 1 0 -5.2 0M261.7 272.3a2.6 2.6 0 1 0 5.2 0a2.6 2.6 0 1 0 -5.2 0M260.6 276.7a2.6 2.6 0 1 0 5.2 0a2.6 2.6 0 1 0 -5.2 0M265.0 276.2a2.6 2.6 0 1 0 5.2 0a2.6 2.6 0 1 0 -5.2 0M268.3 266.8a2.6 2.6 0 1 0 5.2 0a2.6 2.6 0 1 0 -5.2 0M269.4 271.2a2.6 2.6 0 1 0 5.2 0a2.6 2.6 0 1 0 -5.2 0M273.8 271.8a2.6 2.6 0 1 0 5.2 0a2.6 2.6 0 1 0 -5.2 0M277.1 270.1a2.6 2.6 0 1 0 5.2 0a2.6 2.6 0 1 0 -5.2 0M279.3 263.5a2.6 2.6 0 1 0 5.2 0a2.6 2.6 0 1 0 -5.2 0M274.9 267.9a2.6 2.6 0 1 0 5.2 0a2.6 2.6 0 1 0 -5.2 0M276.0 274.5a2.6 2.6 0 1 0 5.2 0a2.6 2.6 0 1 0 -5.2 0M278.2 275.1a2.6 2.6 0 1 0 5.2 0a2.6 2.6 0 1 0 -5.2 0M291.5 273.4a2.6 2.6 0 1 0 5.2 0a2.6 2.6 0 1 0 -5.2 0M293.7 270.1a2.6 2.6 0 1 0 5.2 0a2.6 2.6 0 1 0 -5.2 0M295.9 266.8a2.6 2.6 0 1 0 5.2 0a2.6 2.6 0 1 0 -5.2 0M292.6 260.2a2.6 2.6 0 1 0 5.2 0a2.6 2.6 0 1 0 -5.2 0M295.9 261.3a2.6 2.6 0 1 0 5.2 0a2.6 2.6 0 1 0 -5.2 0M282.6 282.2a2.6 2.6 0 1 0 5.2 0a2.6 2.6 0 1 0 -5.2 0M285.9 281.1a2.6 2.6 0 1 0 5.2 0a2.6 2.6 0 1 0 -5.2 0M283.7 286.6a2.6 2.6 0 1 0 5.2 0a2.6 2.6 0 1 0 -5.2 0M287.0 285.5a2.6 2.6 0 1 0 5.2 0a2.6 2.6 0 1 0 -5.2 0M285.9 289.9a2.6 2.6 0 1 0 5.2 0a2.6 2.6 0 1 0 -5.2 0M291.5 283.3a2.6 2.6 0 1 0 5.2 0a2.6 2.6 0 1 0 -5.2 0M293.7 281.7a2.6 2.6 0 1 0 5.2 0a2.6 2.6 0 1 0 -5.2 0M294.8 279.5a2.6 2.6 0 1 0 5.2 0a2.6 2.6 0 1 0 -5.2 0M269.4 286.6a2.6 2.6 0 1 0 5.2 0a2.6 2.6 0 1 0 -5.2 0M270.5 288.3a2.6 2.6 0 1 0 5.2 0a2.6 2.6 0 1 0 -5.2 0M261.7 293.2a2.6 2.6 0 1 0 5.2 0a2.6 2.6 0 1 0 -5.2 0M258.4 296.5a2.6 2.6 0 1 0 5.2 0a2.6 2.6 0 1 0 -5.2 0M262.8 297.6a2.6 2.6 0 1 0 5.2 0a2.6 2.6 0 1 0 -5.2 0M257.3 299.9a2.6 2.6 0 1 0 5.2 0a2.6 2.6 0 1 0 -5.2 0M260.6 302.1a2.6 2.6 0 1 0 5.2 0a2.6 2.6 0 1 0 -5.2 0M271.6 297.6a2.6 2.6 0 1 0 5.2 0a2.6 2.6 0 1 0 -5.2 0M276.0 297.6a2.6 2.6 0 1 0 5.2 0a2.6 2.6 0 1 0 -5.2 0M278.2 299.3a2.6 2.6 0 1 0 5.2 0a2.6 2.6 0 1 0 -5.2 0M274.9 302.1a2.6 2.6 0 1 0 5.2 0a2.6 2.6 0 1 0 -5.2 0M270.5 304.3a2.6 2.6 0 1 0 5.2 0a2.6 2.6 0 1 0 -5.2 0M273.8 304.3a2.6 2.6 0 1 0 5.2 0a2.6 2.6 0 1 0 -5.2 0M254.0 295.4a2.6 2.6 0 1 0 5.2 0a2.6 2.6 0 1 0 -5.2 0M251.8 298.7a2.6 2.6 0 1 0 5.2 0a2.6 2.6 0 1 0 -5.2 0M255.1 299.9a2.6 2.6 0 1 0 5.2 0a2.6 2.6 0 1 0 -5.2 0M265.0 305.4a2.6 2.6 0 1 0 5.2 0a2.6 2.6 0 1 0 -5.2 0M268.3 306.5a2.6 2.6 0 1 0 5.2 0a2.6 2.6 0 1 0 -5.2 0M251.8 306.5a2.6 2.6 0 1 0 5.2 0a2.6 2.6 0 1 0 -5.2 0M310.0 258.8a2.6 2.6 0 1 0 5.2 0a2.6 2.6 0 1 0 -5.2 0M312.2 257.7a2.6 2.6 0 1 0 5.2 0a2.6 2.6 0 1 0 -5.2 0M301.7 264.3a2.6 2.6 0 1 0 5.2 0a2.6 2.6 0 1 0 -5.2 0M300.6 267.6a2.6 2.6 0 1 0 5.2 0a2.6 2.6 0 1 0 -5.2 0M303.9 270.9a2.6 2.6 0 1 0 5.2 0a2.6 2.6 0 1 0 -5.2 0M298.4 271.5a2.6 2.6 0 1 0 5.2 0a2.6 2.6 0 1 0 -5.2 0M300.6 272.0a2.6 2.6 0 1 0 5.2 0a2.6 2.6 0 1 0 -5.2 0M264.0 309.3a2.6 2.6 0 1 0 5.2 0a2.6 2.6 0 1 0 -5.2 0M253.9 316.7a2.6 2.6 0 1 0 5.2 0a2.6 2.6 0 1 0 -5.2 0M256.5 315.0a2.6 2.6 0 1 0 5.2 0a2.6 2.6 0 1 0 -5.2 0M259.1 314.1a2.6 2.6 0 1 0 5.2 0a2.6 2.6 0 1 0 -5.2 0M260.9 316.3a2.6 2.6 0 1 0 5.2 0a2.6 2.6 0 1 0 -5.2 0M254.7 318.9a2.6 2.6 0 1 0 5.2 0a2.6 2.6 0 1 0 -5.2 0M248.6 319.8a2.6 2.6 0 1 0 5.2 0a2.6 2.6 0 1 0 -5.2 0M247.7 322.9a2.6 2.6 0 1 0 5.2 0a2.6 2.6 0 1 0 -5.2 0M249.4 325.1a2.6 2.6 0 1 0 5.2 0a2.6 2.6 0 1 0 -5.2 0M120.9 346.7a2.6 2.6 0 1 0 5.2 0a2.6 2.6 0 1 0 -5.2 0M147.0 353.6a2.6 2.6 0 1 0 5.2 0a2.6 2.6 0 1 0 -5.2 0M110.5 345.6a2.6 2.6 0 1 0 5.2 0a2.6 2.6 0 1 0 -5.2 0M126.1 343.8a2.6 2.6 0 1 0 5.2 0a2.6 2.6 0 1 0 -5.2 0M112.0 343.4a2.6 2.6 0 1 0 5.2 0a2.6 2.6 0 1 0 -5.2 0M135.2 337.4a2.6 2.6 0 1 0 5.2 0a2.6 2.6 0 1 0 -5.2 0M127.8 345.8a2.6 2.6 0 1 0 5.2 0a2.6 2.6 0 1 0 -5.2 0M104.2 343.6a2.6 2.6 0 1 0 5.2 0a2.6 2.6 0 1 0 -5.2 0M130.9 347.2a2.6 2.6 0 1 0 5.2 0a2.6 2.6 0 1 0 -5.2 0M106.2 356.7a2.6 2.6 0 1 0 5.2 0a2.6 2.6 0 1 0 -5.2 0M138.1 356.4a2.6 2.6 0 1 0 5.2 0a2.6 2.6 0 1 0 -5.2 0M108.0 342.3a2.6 2.6 0 1 0 5.2 0a2.6 2.6 0 1 0 -5.2 0M105.1 352.6a2.6 2.6 0 1 0 5.2 0a2.6 2.6 0 1 0 -5.2 0M115.3 339.6a2.6 2.6 0 1 0 5.2 0a2.6 2.6 0 1 0 -5.2 0M122.0 355.2a2.6 2.6 0 1 0 5.2 0a2.6 2.6 0 1 0 -5.2 0M139.4 342.2a2.6 2.6 0 1 0 5.2 0a2.6 2.6 0 1 0 -5.2 0M110.0 355.4a2.6 2.6 0 1 0 5.2 0a2.6 2.6 0 1 0 -5.2 0M128.5 351.0a2.6 2.6 0 1 0 5.2 0a2.6 2.6 0 1 0 -5.2 0M107.3 338.2a2.6 2.6 0 1 0 5.2 0a2.6 2.6 0 1 0 -5.2 0M133.7 345.5a2.6 2.6 0 1 0 5.2 0a2.6 2.6 0 1 0 -5.2 0M106.6 355.8a2.6 2.6 0 1 0 5.2 0a2.6 2.6 0 1 0 -5.2 0M131.3 353.0a2.6 2.6 0 1 0 5.2 0a2.6 2.6 0 1 0 -5.2 0M107.1 354.1a2.6 2.6 0 1 0 5.2 0a2.6 2.6 0 1 0 -5.2 0M106.3 354.3a2.6 2.6 0 1 0 5.2 0a2.6 2.6 0 1 0 -5.2 0M123.4 343.8a2.6 2.6 0 1 0 5.2 0a2.6 2.6 0 1 0 -5.2 0M127.7 355.5a2.6 2.6 0 1 0 5.2 0a2.6 2.6 0 1 0 -5.2 0M115.2 339.6a2.6 2.6 0 1 0 5.2 0a2.6 2.6 0 1 0 -5.2 0M126.6 341.8a2.6 2.6 0 1 0 5.2 0a2.6 2.6 0 1 0 -5.2 0M108.2 340.2a2.6 2.6 0 1 0 5.2 0a2.6 2.6 0 1 0 -5.2 0M105.6 341.0a2.6 2.6 0 1 0 5.2 0a2.6 2.6 0 1 0 -5.2 0M117.1 343.1a2.6 2.6 0 1 0 5.2 0a2.6 2.6 0 1 0 -5.2 0M136.8 342.8a2.6 2.6 0 1 0 5.2 0a2.6 2.6 0 1 0 -5.2 0M125.4 340.6a2.6 2.6 0 1 0 5.2 0a2.6 2.6 0 1 0 -5.2 0M118.7 337.4a2.6 2.6 0 1 0 5.2 0a2.6 2.6 0 1 0 -5.2 0M114.4 337.3a2.6 2.6 0 1 0 5.2 0a2.6 2.6 0 1 0 -5.2 0M135.7 348.0a2.6 2.6 0 1 0 5.2 0a2.6 2.6 0 1 0 -5.2 0M111.7 346.5a2.6 2.6 0 1 0 5.2 0a2.6 2.6 0 1 0 -5.2 0M144.5 339.1a2.6 2.6 0 1 0 5.2 0a2.6 2.6 0 1 0 -5.2 0M139.4 345.6a2.6 2.6 0 1 0 5.2 0a2.6 2.6 0 1 0 -5.2 0M125.2 353.7a2.6 2.6 0 1 0 5.2 0a2.6 2.6 0 1 0 -5.2 0M120.7 347.1a2.6 2.6 0 1 0 5.2 0a2.6 2.6 0 1 0 -5.2 0M133.7 356.6a2.6 2.6 0 1 0 5.2 0a2.6 2.6 0 1 0 -5.2 0M118.5 353.6a2.6 2.6 0 1 0 5.2 0a2.6 2.6 0 1 0 -5.2 0M134.5 349.7a2.6 2.6 0 1 0 5.2 0a2.6 2.6 0 1 0 -5.2 0M121.2 344.0a2.6 2.6 0 1 0 5.2 0a2.6 2.6 0 1 0 -5.2 0M105.8 339.6a2.6 2.6 0 1 0 5.2 0a2.6 2.6 0 1 0 -5.2 0M106.5 351.8a2.6 2.6 0 1 0 5.2 0a2.6 2.6 0 1 0 -5.2 0M114.6 340.3a2.6 2.6 0 1 0 5.2 0a2.6 2.6 0 1 0 -5.2 0M107.1 353.8a2.6 2.6 0 1 0 5.2 0a2.6 2.6 0 1 0 -5.2 0M141.7 350.4a2.6 2.6 0 1 0 5.2 0a2.6 2.6 0 1 0 -5.2 0M115.8 341.8a2.6 2.6 0 1 0 5.2 0a2.6 2.6 0 1 0 -5.2 0M116.3 346.2a2.6 2.6 0 1 0 5.2 0a2.6 2.6 0 1 0 -5.2 0M110.3 345.9a2.6 2.6 0 1 0 5.2 0a2.6 2.6 0 1 0 -5.2 0M115.0 356.2a2.6 2.6 0 1 0 5.2 0a2.6 2.6 0 1 0 -5.2 0M146.2 347.9a2.6 2.6 0 1 0 5.2 0a2.6 2.6 0 1 0 -5.2 0M114.2 356.3a2.6 2.6 0 1 0 5.2 0a2.6 2.6 0 1 0 -5.2 0M117.0 344.1a2.6 2.6 0 1 0 5.2 0a2.6 2.6 0 1 0 -5.2 0M103.4 344.6a2.6 2.6 0 1 0 5.2 0a2.6 2.6 0 1 0 -5.2 0M124.3 347.1a2.6 2.6 0 1 0 5.2 0a2.6 2.6 0 1 0 -5.2 0M112.2 347.1a2.6 2.6 0 1 0 5.2 0a2.6 2.6 0 1 0 -5.2 0M103.6 342.3a2.6 2.6 0 1 0 5.2 0a2.6 2.6 0 1 0 -5.2 0M107.3 345.0a2.6 2.6 0 1 0 5.2 0a2.6 2.6 0 1 0 -5.2 0M105.2 337.4a2.6 2.6 0 1 0 5.2 0a2.6 2.6 0 1 0 -5.2 0M116.8 341.7a2.6 2.6 0 1 0 5.2 0a2.6 2.6 0 1 0 -5.2 0M129.2 347.6a2.6 2.6 0 1 0 5.2 0a2.6 2.6 0 1 0 -5.2 0M136.4 350.2a2.6 2.6 0 1 0 5.2 0a2.6 2.6 0 1 0 -5.2 0M134.9 354.6a2.6 2.6 0 1 0 5.2 0a2.6 2.6 0 1 0 -5.2 0M120.5 343.5a2.6 2.6 0 1 0 5.2 0a2.6 2.6 0 1 0 -5.2 0M146.7 340.0a2.6 2.6 0 1 0 5.2 0a2.6 2.6 0 1 0 -5.2 0M135.3 349.9a2.6 2.6 0 1 0 5.2 0a2.6 2.6 0 1 0 -5.2 0M105.3 353.7a2.6 2.6 0 1 0 5.2 0a2.6 2.6 0 1 0 -5.2 0M142.6 349.5a2.6 2.6 0 1 0 5.2 0a2.6 2.6 0 1 0 -5.2 0M135.7 353.2a2.6 2.6 0 1 0 5.2 0a2.6 2.6 0 1 0 -5.2 0M109.5 347.5a2.6 2.6 0 1 0 5.2 0a2.6 2.6 0 1 0 -5.2 0M125.6 353.7a2.6 2.6 0 1 0 5.2 0a2.6 2.6 0 1 0 -5.2 0M145.4 374.9a2.6 2.6 0 1 0 5.2 0a2.6 2.6 0 1 0 -5.2 0M128.1 353.0a2.6 2.6 0 1 0 5.2 0a2.6 2.6 0 1 0 -5.2 0M124.5 363.9a2.6 2.6 0 1 0 5.2 0a2.6 2.6 0 1 0 -5.2 0M123.4 379.6a2.6 2.6 0 1 0 5.2 0a2.6 2.6 0 1 0 -5.2 0M140.6 372.7a2.6 2.6 0 1 0 5.2 0a2.6 2.6 0 1 0 -5.2 0M143.2 374.5a2.6 2.6 0 1 0 5.2 0a2.6 2.6 0 1 0 -5.2 0M138.0 352.1a2.6 2.6 0 1 0 5.2 0a2.6 2.6 0 1 0 -5.2 0M149.7 376.7a2.6 2.6 0 1 0 5.2 0a2.6 2.6 0 1 0 -5.2 0M138.5 369.7a2.6 2.6 0 1 0 5.2 0a2.6 2.6 0 1 0 -5.2 0M144.5 354.2a2.6 2.6 0 1 0 5.2 0a2.6 2.6 0 1 0 -5.2 0M147.4 360.3a2.6 2.6 0 1 0 5.2 0a2.6 2.6 0 1 0 -5.2 0M122.2 360.8a2.6 2.6 0 1 0 5.2 0a2.6 2.6 0 1 0 -5.2 0M147.1 358.8a2.6 2.6 0 1 0 5.2 0a2.6 2.6 0 1 0 -5.2 0M138.2 364.6a2.6 2.6 0 1 0 5.2 0a2.6 2.6 0 1 0 -5.2 0M137.6 374.6a2.6 2.6 0 1 0 5.2 0a2.6 2.6 0 1 0 -5.2 0M148.5 372.4a2.6 2.6 0 1 0 5.2 0a2.6 2.6 0 1 0 -5.2 0M143.8 354.6a2.6 2.6 0 1 0 5.2 0a2.6 2.6 0 1 0 -5.2 0M125.0 360.4a2.6 2.6 0 1 0 5.2 0a2.6 2.6 0 1 0 -5.2 0M147.6 362.0a2.6 2.6 0 1 0 5.2 0a2.6 2.6 0 1 0 -5.2 0M141.0 352.4a2.6 2.6 0 1 0 5.2 0a2.6 2.6 0 1 0 -5.2 0M121.7 360.9a2.6 2.6 0 1 0 5.2 0a2.6 2.6 0 1 0 -5.2 0M144.9 374.8a2.6 2.6 0 1 0 5.2 0a2.6 2.6 0 1 0 -5.2 0M145.1 361.6a2.6 2.6 0 1 0 5.2 0a2.6 2.6 0 1 0 -5.2 0M139.0 367.3a2.6 2.6 0 1 0 5.2 0a2.6 2.6 0 1 0 -5.2 0M137.1 355.9a2.6 2.6 0 1 0 5.2 0a2.6 2.6 0 1 0 -5.2 0M153.4 358.6a2.6 2.6 0 1 0 5.2 0a2.6 2.6 0 1 0 -5.2 0M120.1 367.1a2.6 2.6 0 1 0 5.2 0a2.6 2.6 0 1 0 -5.2 0M136.5 360.9a2.6 2.6 0 1 0 5.2 0a2.6 2.6 0 1 0 -5.2 0M127.4 371.2a2.6 2.6 0 1 0 5.2 0a2.6 2.6 0 1 0 -5.2 0M124.8 369.3a2.6 2.6 0 1 0 5.2 0a2.6 2.6 0 1 0 -5.2 0M155.6 356.4a2.6 2.6 0 1 0 5.2 0a2.6 2.6 0 1 0 -5.2 0M150.6 368.8a2.6 2.6 0 1 0 5.2 0a2.6 2.6 0 1 0 -5.2 0M153.1 375.2a2.6 2.6 0 1 0 5.2 0a2.6 2.6 0 1 0 -5.2 0M137.9 352.8a2.6 2.6 0 1 0 5.2 0a2.6 2.6 0 1 0 -5.2 0M119.5 368.2a2.6 2.6 0 1 0 5.2 0a2.6 2.6 0 1 0 -5.2 0M136.5 362.0a2.6 2.6 0 1 0 5.2 0a2.6 2.6 0 1 0 -5.2 0M124.7 363.4a2.6 2.6 0 1 0 5.2 0a2.6 2.6 0 1 0 -5.2 0M131.4 379.7a2.6 2.6 0 1 0 5.2 0a2.6 2.6 0 1 0 -5.2 0M119.5 376.8a2.6 2.6 0 1 0 5.2 0a2.6 2.6 0 1 0 -5.2 0M151.3 356.0a2.6 2.6 0 1 0 5.2 0a2.6 2.6 0 1 0 -5.2 0M154.6 375.5a2.6 2.6 0 1 0 5.2 0a2.6 2.6 0 1 0 -5.2 0M153.7 361.6a2.6 2.6 0 1 0 5.2 0a2.6 2.6 0 1 0 -5.2 0M133.5 365.0a2.6 2.6 0 1 0 5.2 0a2.6 2.6 0 1 0 -5.2 0M157.4 371.4a2.6 2.6 0 1 0 5.2 0a2.6 2.6 0 1 0 -5.2 0M133.1 366.1a2.6 2.6 0 1 0 5.2 0a2.6 2.6 0 1 0 -5.2 0M129.9 353.6a2.6 2.6 0 1 0 5.2 0a2.6 2.6 0 1 0 -5.2 0M123.3 379.5a2.6 2.6 0 1 0 5.2 0a2.6 2.6 0 1 0 -5.2 0M128.9 360.8a2.6 2.6 0 1 0 5.2 0a2.6 2.6 0 1 0 -5.2 0M138.8 358.3a2.6 2.6 0 1 0 5.2 0a2.6 2.6 0 1 0 -5.2 0M155.1 370.1a2.6 2.6 0 1 0 5.2 0a2.6 2.6 0 1 0 -5.2 0M146.7 353.6a2.6 2.6 0 1 0 5.2 0a2.6 2.6 0 1 0 -5.2 0M147.2 366.9a2.6 2.6 0 1 0 5.2 0a2.6 2.6 0 1 0 -5.2 0M148.0 373.3a2.6 2.6 0 1 0 5.2 0a2.6 2.6 0 1 0 -5.2 0M130.3 353.6a2.6 2.6 0 1 0 5.2 0a2.6 2.6 0 1 0 -5.2 0M154.6 356.2a2.6 2.6 0 1 0 5.2 0a2.6 2.6 0 1 0 -5.2 0M137.3 363.3a2.6 2.6 0 1 0 5.2 0a2.6 2.6 0 1 0 -5.2 0M130.7 376.4a2.6 2.6 0 1 0 5.2 0a2.6 2.6 0 1 0 -5.2 0M156.5 360.6a2.6 2.6 0 1 0 5.2 0a2.6 2.6 0 1 0 -5.2 0M144.3 361.9a2.6 2.6 0 1 0 5.2 0a2.6 2.6 0 1 0 -5.2 0M140.6 365.0a2.6 2.6 0 1 0 5.2 0a2.6 2.6 0 1 0 -5.2 0M155.8 337.1a2.6 2.6 0 1 0 5.2 0a2.6 2.6 0 1 0 -5.2 0M157.8 346.8a2.6 2.6 0 1 0 5.2 0a2.6 2.6 0 1 0 -5.2 0M172.3 337.9a2.6 2.6 0 1 0 5.2 0a2.6 2.6 0 1 0 -5.2 0M192.7 348.0a2.6 2.6 0 1 0 5.2 0a2.6 2.6 0 1 0 -5.2 0M169.9 336.8a2.6 2.6 0 1 0 5.2 0a2.6 2.6 0 1 0 -5.2 0M157.0 336.2a2.6 2.6 0 1 0 5.2 0a2.6 2.6 0 1 0 -5.2 0M164.5 336.2a2.6 2.6 0 1 0 5.2 0a2.6 2.6 0 1 0 -5.2 0M159.4 338.4a2.6 2.6 0 1 0 5.2 0a2.6 2.6 0 1 0 -5.2 0M175.9 346.5a2.6 2.6 0 1 0 5.2 0a2.6 2.6 0 1 0 -5.2 0M184.9 340.4a2.6 2.6 0 1 0 5.2 0a2.6 2.6 0 1 0 -5.2 0M168.1 341.8a2.6 2.6 0 1 0 5.2 0a2.6 2.6 0 1 0 -5.2 0M166.2 339.4a2.6 2.6 0 1 0 5.2 0a2.6 2.6 0 1 0 -5.2 0M150.5 338.6a2.6 2.6 0 1 0 5.2 0a2.6 2.6 0 1 0 -5.2 0M195.8 336.6a2.6 2.6 0 1 0 5.2 0a2.6 2.6 0 1 0 -5.2 0M172.6 343.2a2.6 2.6 0 1 0 5.2 0a2.6 2.6 0 1 0 -5.2 0M190.5 337.8a2.6 2.6 0 1 0 5.2 0a2.6 2.6 0 1 0 -5.2 0M161.0 338.2a2.6 2.6 0 1 0 5.2 0a2.6 2.6 0 1 0 -5.2 0M167.4 340.8a2.6 2.6 0 1 0 5.2 0a2.6 2.6 0 1 0 -5.2 0M195.1 346.0a2.6 2.6 0 1 0 5.2 0a2.6 2.6 0 1 0 -5.2 0M191.0 335.3a2.6 2.6 0 1 0 5.2 0a2.6 2.6 0 1 0 -5.2 0M149.0 344.2a2.6 2.6 0 1 0 5.2 0a2.6 2.6 0 1 0 -5.2 0M192.2 341.2a2.6 2.6 0 1 0 5.2 0a2.6 2.6 0 1 0 -5.2 0M176.8 335.0a2.6 2.6 0 1 0 5.2 0a2.6 2.6 0 1 0 -5.2 0M167.0 347.0a2.6 2.6 0 1 0 5.2 0a2.6 2.6 0 1 0 -5.2 0M188.7 346.1a2.6 2.6 0 1 0 5.2 0a2.6 2.6 0 1 0 -5.2 0M196.0 338.2a2.6 2.6 0 1 0 5.2 0a2.6 2.6 0 1 0 -5.2 0M152.9 337.0a2.6 2.6 0 1 0 5.2 0a2.6 2.6 0 1 0 -5.2 0M173.5 343.9a2.6 2.6 0 1 0 5.2 0a2.6 2.6 0 1 0 -5.2 0M194.5 344.4a2.6 2.6 0 1 0 5.2 0a2.6 2.6 0 1 0 -5.2 0M179.8 344.9a2.6 2.6 0 1 0 5.2 0a2.6 2.6 0 1 0 -5.2 0M170.3 342.2a2.6 2.6 0 1 0 5.2 0a2.6 2.6 0 1 0 -5.2 0M149.4 345.2a2.6 2.6 0 1 0 5.2 0a2.6 2.6 0 1 0 -5.2 0M159.0 347.0a2.6 2.6 0 1 0 5.2 0a2.6 2.6 0 1 0 -5.2 0M179.7 338.9a2.6 2.6 0 1 0 5.2 0a2.6 2.6 0 1 0 -5.2 0M153.8 338.3a2.6 2.6 0 1 0 5.2 0a2.6 2.6 0 1 0 -5.2 0M179.2 344.1a2.6 2.6 0 1 0 5.2 0a2.6 2.6 0 1 0 -5.2 0M153.0 335.9a2.6 2.6 0 1 0 5.2 0a2.6 2.6 0 1 0 -5.2 0M173.6 342.6a2.6 2.6 0 1 0 5.2 0a2.6 2.6 0 1 0 -5.2 0M166.8 337.9a2.6 2.6 0 1 0 5.2 0a2.6 2.6 0 1 0 -5.2 0M177.5 335.1a2.6 2.6 0 1 0 5.2 0a2.6 2.6 0 1 0 -5.2 0M164.7 364.2a2.6 2.6 0 1 0 5.2 0a2.6 2.6 0 1 0 -5.2 0M206.8 340.1a2.6 2.6 0 1 0 5.2 0a2.6 2.6 0 1 0 -5.2 0M202.0 347.1a2.6 2.6 0 1 0 5.2 0a2.6 2.6 0 1 0 -5.2 0M160.4 370.6a2.6 2.6 0 1 0 5.2 0a2.6 2.6 0 1 0 -5.2 0M206.9 338.6a2.6 2.6 0 1 0 5.2 0a2.6 2.6 0 1 0 -5.2 0M165.1 374.6a2.6 2.6 0 1 0 5.2 0a2.6 2.6 0 1 0 -5.2 0M177.3 354.5a2.6 2.6 0 1 0 5.2 0a2.6 2.6 0 1 0 -5.2 0M172.3 366.5a2.6 2.6 0 1 0 5.2 0a2.6 2.6 0 1 0 -5.2 0M188.1 343.9a2.6 2.6 0 1 0 5.2 0a2.6 2.6 0 1 0 -5.2 0M159.9 375.9a2.6 2.6 0 1 0 5.2 0a2.6 2.6 0 1 0 -5.2 0M167.0 364.4a2.6 2.6 0 1 0 5.2 0a2.6 2.6 0 1 0 -5.2 0M189.1 360.9a2.6 2.6 0 1 0 5.2 0a2.6 2.6 0 1 0 -5.2 0M196.4 344.1a2.6 2.6 0 1 0 5.2 0a2.6 2.6 0 1 0 -5.2 0M177.7 365.5a2.6 2.6 0 1 0 5.2 0a2.6 2.6 0 1 0 -5.2 0M207.5 347.7a2.6 2.6 0 1 0 5.2 0a2.6 2.6 0 1 0 -5.2 0M197.9 355.4a2.6 2.6 0 1 0 5.2 0a2.6 2.6 0 1 0 -5.2 0M159.6 358.5a2.6 2.6 0 1 0 5.2 0a2.6 2.6 0 1 0 -5.2 0M164.3 352.5a2.6 2.6 0 1 0 5.2 0a2.6 2.6 0 1 0 -5.2 0M177.1 366.2a2.6 2.6 0 1 0 5.2 0a2.6 2.6 0 1 0 -5.2 0M159.7 366.7a2.6 2.6 0 1 0 5.2 0a2.6 2.6 0 1 0 -5.2 0M188.0 343.4a2.6 2.6 0 1 0 5.2 0a2.6 2.6 0 1 0 -5.2 0M154.8 368.7a2.6 2.6 0 1 0 5.2 0a2.6 2.6 0 1 0 -5.2 0M159.0 353.5a2.6 2.6 0 1 0 5.2 0a2.6 2.6 0 1 0 -5.2 0M154.5 377.0a2.6 2.6 0 1 0 5.2 0a2.6 2.6 0 1 0 -5.2 0M149.2 369.8a2.6 2.6 0 1 0 5.2 0a2.6 2.6 0 1 0 -5.2 0M202.9 336.7a2.6 2.6 0 1 0 5.2 0a2.6 2.6 0 1 0 -5.2 0M192.3 340.1a2.6 2.6 0 1 0 5.2 0a2.6 2.6 0 1 0 -5.2 0M205.0 348.7a2.6 2.6 0 1 0 5.2 0a2.6 2.6 0 1 0 -5.2 0M157.3 355.0a2.6 2.6 0 1 0 5.2 0a2.6 2.6 0 1 0 -5.2 0M193.2 362.9a2.6 2.6 0 1 0 5.2 0a2.6 2.6 0 1 0 -5.2 0M187.9 357.2a2.6 2.6 0 1 0 5.2 0a2.6 2.6 0 1 0 -5.2 0M169.3 365.9a2.6 2.6 0 1 0 5.2 0a2.6 2.6 0 1 0 -5.2 0M156.2 377.6a2.6 2.6 0 1 0 5.2 0a2.6 2.6 0 1 0 -5.2 0M163.3 367.2a2.6 2.6 0 1 0 5.2 0a2.6 2.6 0 1 0 -5.2 0M206.6 352.8a2.6 2.6 0 1 0 5.2 0a2.6 2.6 0 1 0 -5.2 0M207.1 350.4a2.6 2.6 0 1 0 5.2 0a2.6 2.6 0 1 0 -5.2 0M168.2 354.4a2.6 2.6 0 1 0 5.2 0a2.6 2.6 0 1 0 -5.2 0M198.0 350.5a2.6 2.6 0 1 0 5.2 0a2.6 2.6 0 1 0 -5.2 0M148.6 368.0a2.6 2.6 0 1 0 5.2 0a2.6 2.6 0 1 0 -5.2 0M169.3 351.8a2.6 2.6 0 1 0 5.2 0a2.6 2.6 0 1 0 -5.2 0M157.8 368.5a2.6 2.6 0 1 0 5.2 0a2.6 2.6 0 1 0 -5.2 0M202.8 357.2a2.6 2.6 0 1 0 5.2 0a2.6 2.6 0 1 0 -5.2 0M171.7 353.4a2.6 2.6 0 1 0 5.2 0a2.6 2.6 0 1 0 -5.2 0M194.5 362.0a2.6 2.6 0 1 0 5.2 0a2.6 2.6 0 1 0 -5.2 0M147.6 378.0a2.6 2.6 0 1 0 5.2 0a2.6 2.6 0 1 0 -5.2 0M204.3 350.9a2.6 2.6 0 1 0 5.2 0a2.6 2.6 0 1 0 -5.2 0M193.2 342.0a2.6 2.6 0 1 0 5.2 0a2.6 2.6 0 1 0 -5.2 0M167.1 368.0a2.6 2.6 0 1 0 5.2 0a2.6 2.6 0 1 0 -5.2 0M206.7 340.8a2.6 2.6 0 1 0 5.2 0a2.6 2.6 0 1 0 -5.2 0M162.2 358.8a2.6 2.6 0 1 0 5.2 0a2.6 2.6 0 1 0 -5.2 0M165.7 368.3a2.6 2.6 0 1 0 5.2 0a2.6 2.6 0 1 0 -5.2 0M145.6 361.6a2.6 2.6 0 1 0 5.2 0a2.6 2.6 0 1 0 -5.2 0M204.1 342.0a2.6 2.6 0 1 0 5.2 0a2.6 2.6 0 1 0 -5.2 0M205.8 355.6a2.6 2.6 0 1 0 5.2 0a2.6 2.6 0 1 0 -5.2 0M160.4 365.1a2.6 2.6 0 1 0 5.2 0a2.6 2.6 0 1 0 -5.2 0M206.6 332.8a2.6 2.6 0 1 0 5.2 0a2.6 2.6 0 1 0 -5.2 0M170.1 367.5a2.6 2.6 0 1 0 5.2 0a2.6 2.6 0 1 0 -5.2 0M172.9 360.6a2.6 2.6 0 1 0 5.2 0a2.6 2.6 0 1 0 -5.2 0M204.8 352.4a2.6 2.6 0 1 0 5.2 0a2.6 2.6 0 1 0 -5.2 0M196.8 343.9a2.6 2.6 0 1 0 5.2 0a2.6 2.6 0 1 0 -5.2 0M198.1 342.3a2.6 2.6 0 1 0 5.2 0a2.6 2.6 0 1 0 -5.2 0M184.3 360.0a2.6 2.6 0 1 0 5.2 0a2.6 2.6 0 1 0 -5.2 0M165.9 366.2a2.6 2.6 0 1 0 5.2 0a2.6 2.6 0 1 0 -5.2 0M195.5 360.5a2.6 2.6 0 1 0 5.2 0a2.6 2.6 0 1 0 -5.2 0M158.0 359.1a2.6 2.6 0 1 0 5.2 0a2.6 2.6 0 1 0 -5.2 0M161.2 374.7a2.6 2.6 0 1 0 5.2 0a2.6 2.6 0 1 0 -5.2 0M147.6 366.2a2.6 2.6 0 1 0 5.2 0a2.6 2.6 0 1 0 -5.2 0M166.2 351.2a2.6 2.6 0 1 0 5.2 0a2.6 2.6 0 1 0 -5.2 0M201.9 334.8a2.6 2.6 0 1 0 5.2 0a2.6 2.6 0 1 0 -5.2 0M162.4 373.9a2.6 2.6 0 1 0 5.2 0a2.6 2.6 0 1 0 -5.2 0M151.6 367.0a2.6 2.6 0 1 0 5.2 0a2.6 2.6 0 1 0 -5.2 0M190.8 354.1a2.6 2.6 0 1 0 5.2 0a2.6 2.6 0 1 0 -5.2 0M160.4 366.5a2.6 2.6 0 1 0 5.2 0a2.6 2.6 0 1 0 -5.2 0M185.1 351.3a2.6 2.6 0 1 0 5.2 0a2.6 2.6 0 1 0 -5.2 0M193.3 343.2a2.6 2.6 0 1 0 5.2 0a2.6 2.6 0 1 0 -5.2 0M187.9 363.3a2.6 2.6 0 1 0 5.2 0a2.6 2.6 0 1 0 -5.2 0M199.2 353.1a2.6 2.6 0 1 0 5.2 0a2.6 2.6 0 1 0 -5.2 0M181.7 359.9a2.6 2.6 0 1 0 5.2 0a2.6 2.6 0 1 0 -5.2 0M192.6 359.1a2.6 2.6 0 1 0 5.2 0a2.6 2.6 0 1 0 -5.2 0M161.2 370.4a2.6 2.6 0 1 0 5.2 0a2.6 2.6 0 1 0 -5.2 0M155.2 356.8a2.6 2.6 0 1 0 5.2 0a2.6 2.6 0 1 0 -5.2 0M182.4 360.8a2.6 2.6 0 1 0 5.2 0a2.6 2.6 0 1 0 -5.2 0M170.7 349.4a2.6 2.6 0 1 0 5.2 0a2.6 2.6 0 1 0 -5.2 0M177.9 364.9a2.6 2.6 0 1 0 5.2 0a2.6 2.6 0 1 0 -5.2 0M197.1 345.7a2.6 2.6 0 1 0 5.2 0a2.6 2.6 0 1 0 -5.2 0M208.8 351.9a2.6 2.6 0 1 0 5.2 0a2.6 2.6 0 1 0 -5.2 0M175.8 351.6a2.6 2.6 0 1 0 5.2 0a2.6 2.6 0 1 0 -5.2 0M199.2 338.2a2.6 2.6 0 1 0 5.2 0a2.6 2.6 0 1 0 -5.2 0M148.0 372.4a2.6 2.6 0 1 0 5.2 0a2.6 2.6 0 1 0 -5.2 0M153.0 374.1a2.6 2.6 0 1 0 5.2 0a2.6 2.6 0 1 0 -5.2 0M207.7 341.1a2.6 2.6 0 1 0 5.2 0a2.6 2.6 0 1 0 -5.2 0M204.9 347.8a2.6 2.6 0 1 0 5.2 0a2.6 2.6 0 1 0 -5.2 0M200.8 348.4a2.6 2.6 0 1 0 5.2 0a2.6 2.6 0 1 0 -5.2 0M162.0 357.4a2.6 2.6 0 1 0 5.2 0a2.6 2.6 0 1 0 -5.2 0M205.9 353.6a2.6 2.6 0 1 0 5.2 0a2.6 2.6 0 1 0 -5.2 0M183.6 353.3a2.6 2.6 0 1 0 5.2 0a2.6 2.6 0 1 0 -5.2 0M159.3 368.0a2.6 2.6 0 1 0 5.2 0a2.6 2.6 0 1 0 -5.2 0M154.4 373.3a2.6 2.6 0 1 0 5.2 0a2.6 2.6 0 1 0 -5.2 0M161.7 361.8a2.6 2.6 0 1 0 5.2 0a2.6 2.6 0 1 0 -5.2 0M187.1 361.8a2.6 2.6 0 1 0 5.2 0a2.6 2.6 0 1 0 -5.2 0M146.1 371.8a2.6 2.6 0 1 0 5.2 0a2.6 2.6 0 1 0 -5.2 0M188.8 361.4a2.6 2.6 0 1 0 5.2 0a2.6 2.6 0 1 0 -5.2 0M165.4 370.1a2.6 2.6 0 1 0 5.2 0a2.6 2.6 0 1 0 -5.2 0M196.3 348.8a2.6 2.6 0 1 0 5.2 0a2.6 2.6 0 1 0 -5.2 0M149.4 376.8a2.6 2.6 0 1 0 5.2 0a2.6 2.6 0 1 0 -5.2 0M170.7 360.1a2.6 2.6 0 1 0 5.2 0a2.6 2.6 0 1 0 -5.2 0M186.3 364.8a2.6 2.6 0 1 0 5.2 0a2.6 2.6 0 1 0 -5.2 0M155.9 361.1a2.6 2.6 0 1 0 5.2 0a2.6 2.6 0 1 0 -5.2 0M171.6 366.1a2.6 2.6 0 1 0 5.2 0a2.6 2.6 0 1 0 -5.2 0M165.1 352.2a2.6 2.6 0 1 0 5.2 0a2.6 2.6 0 1 0 -5.2 0M165.4 361.4a2.6 2.6 0 1 0 5.2 0a2.6 2.6 0 1 0 -5.2 0M168.3 364.2a2.6 2.6 0 1 0 5.2 0a2.6 2.6 0 1 0 -5.2 0M200.7 335.3a2.6 2.6 0 1 0 5.2 0a2.6 2.6 0 1 0 -5.2 0M168.7 369.3a2.6 2.6 0 1 0 5.2 0a2.6 2.6 0 1 0 -5.2 0M192.0 359.3a2.6 2.6 0 1 0 5.2 0a2.6 2.6 0 1 0 -5.2 0M145.8 358.1a2.6 2.6 0 1 0 5.2 0a2.6 2.6 0 1 0 -5.2 0M172.5 352.9a2.6 2.6 0 1 0 5.2 0a2.6 2.6 0 1 0 -5.2 0M171.4 351.8a2.6 2.6 0 1 0 5.2 0a2.6 2.6 0 1 0 -5.2 0M174.9 367.7a2.6 2.6 0 1 0 5.2 0a2.6 2.6 0 1 0 -5.2 0M146.3 366.4a2.6 2.6 0 1 0 5.2 0a2.6 2.6 0 1 0 -5.2 0M186.4 345.2a2.6 2.6 0 1 0 5.2 0a2.6 2.6 0 1 0 -5.2 0M151.1 364.1a2.6 2.6 0 1 0 5.2 0a2.6 2.6 0 1 0 -5.2 0M169.1 361.8a2.6 2.6 0 1 0 5.2 0a2.6 2.6 0 1 0 -5.2 0M154.7 371.3a2.6 2.6 0 1 0 5.2 0a2.6 2.6 0 1 0 -5.2 0M178.8 347.8a2.6 2.6 0 1 0 5.2 0a2.6 2.6 0 1 0 -5.2 0M152.4 367.0a2.6 2.6 0 1 0 5.2 0a2.6 2.6 0 1 0 -5.2 0M196.9 338.3a2.6 2.6 0 1 0 5.2 0a2.6 2.6 0 1 0 -5.2 0M158.0 374.2a2.6 2.6 0 1 0 5.2 0a2.6 2.6 0 1 0 -5.2 0M205.8 332.8a2.6 2.6 0 1 0 5.2 0a2.6 2.6 0 1 0 -5.2 0M176.3 369.8a2.6 2.6 0 1 0 5.2 0a2.6 2.6 0 1 0 -5.2 0M204.7 347.5a2.6 2.6 0 1 0 5.2 0a2.6 2.6 0 1 0 -5.2 0M203.3 342.8a2.6 2.6 0 1 0 5.2 0a2.6 2.6 0 1 0 -5.2 0M198.2 356.9a2.6 2.6 0 1 0 5.2 0a2.6 2.6 0 1 0 -5.2 0M195.7 356.9a2.6 2.6 0 1 0 5.2 0a2.6 2.6 0 1 0 -5.2 0M171.3 352.7a2.6 2.6 0 1 0 5.2 0a2.6 2.6 0 1 0 -5.2 0M198.5 356.2a2.6 2.6 0 1 0 5.2 0a2.6 2.6 0 1 0 -5.2 0M159.4 367.2a2.6 2.6 0 1 0 5.2 0a2.6 2.6 0 1 0 -5.2 0M178.5 360.9a2.6 2.6 0 1 0 5.2 0a2.6 2.6 0 1 0 -5.2 0M153.3 372.6a2.6 2.6 0 1 0 5.2 0a2.6 2.6 0 1 0 -5.2 0M191.8 342.8a2.6 2.6 0 1 0 5.2 0a2.6 2.6 0 1 0 -5.2 0M148.0 365.9a2.6 2.6 0 1 0 5.2 0a2.6 2.6 0 1 0 -5.2 0M193.9 362.3a2.6 2.6 0 1 0 5.2 0a2.6 2.6 0 1 0 -5.2 0M199.0 357.4a2.6 2.6 0 1 0 5.2 0a2.6 2.6 0 1 0 -5.2 0M183.8 354.9a2.6 2.6 0 1 0 5.2 0a2.6 2.6 0 1 0 -5.2 0M185.5 360.0a2.6 2.6 0 1 0 5.2 0a2.6 2.6 0 1 0 -5.2 0M172.3 358.7a2.6 2.6 0 1 0 5.2 0a2.6 2.6 0 1 0 -5.2 0M172.6 356.7a2.6 2.6 0 1 0 5.2 0a2.6 2.6 0 1 0 -5.2 0M174.0 361.4a2.6 2.6 0 1 0 5.2 0a2.6 2.6 0 1 0 -5.2 0M146.9 364.7a2.6 2.6 0 1 0 5.2 0a2.6 2.6 0 1 0 -5.2 0M176.7 365.2a2.6 2.6 0 1 0 5.2 0a2.6 2.6 0 1 0 -5.2 0M194.3 344.3a2.6 2.6 0 1 0 5.2 0a2.6 2.6 0 1 0 -5.2 0M174.7 367.4a2.6 2.6 0 1 0 5.2 0a2.6 2.6 0 1 0 -5.2 0M175.7 368.7a2.6 2.6 0 1 0 5.2 0a2.6 2.6 0 1 0 -5.2 0M153.6 368.1a2.6 2.6 0 1 0 5.2 0a2.6 2.6 0 1 0 -5.2 0M151.3 368.4a2.6 2.6 0 1 0 5.2 0a2.6 2.6 0 1 0 -5.2 0M178.1 369.4a2.6 2.6 0 1 0 5.2 0a2.6 2.6 0 1 0 -5.2 0M186.1 365.1a2.6 2.6 0 1 0 5.2 0a2.6 2.6 0 1 0 -5.2 0M192.3 345.4a2.6 2.6 0 1 0 5.2 0a2.6 2.6 0 1 0 -5.2 0M178.1 369.0a2.6 2.6 0 1 0 5.2 0a2.6 2.6 0 1 0 -5.2 0M177.7 361.4a2.6 2.6 0 1 0 5.2 0a2.6 2.6 0 1 0 -5.2 0M206.3 352.6a2.6 2.6 0 1 0 5.2 0a2.6 2.6 0 1 0 -5.2 0M200.3 335.6a2.6 2.6 0 1 0 5.2 0a2.6 2.6 0 1 0 -5.2 0M192.3 344.5a2.6 2.6 0 1 0 5.2 0a2.6 2.6 0 1 0 -5.2 0M157.8 353.7a2.6 2.6 0 1 0 5.2 0a2.6 2.6 0 1 0 -5.2 0M176.9 347.8a2.6 2.6 0 1 0 5.2 0a2.6 2.6 0 1 0 -5.2 0M204.0 353.3a2.6 2.6 0 1 0 5.2 0a2.6 2.6 0 1 0 -5.2 0M195.9 339.8a2.6 2.6 0 1 0 5.2 0a2.6 2.6 0 1 0 -5.2 0M149.6 370.8a2.6 2.6 0 1 0 5.2 0a2.6 2.6 0 1 0 -5.2 0M193.8 359.5a2.6 2.6 0 1 0 5.2 0a2.6 2.6 0 1 0 -5.2 0M202.8 351.4a2.6 2.6 0 1 0 5.2 0a2.6 2.6 0 1 0 -5.2 0M197.6 357.7a2.6 2.6 0 1 0 5.2 0a2.6 2.6 0 1 0 -5.2 0M177.5 348.5a2.6 2.6 0 1 0 5.2 0a2.6 2.6 0 1 0 -5.2 0M158.7 370.7a2.6 2.6 0 1 0 5.2 0a2.6 2.6 0 1 0 -5.2 0M177.8 362.8a2.6 2.6 0 1 0 5.2 0a2.6 2.6 0 1 0 -5.2 0M147.8 375.1a2.6 2.6 0 1 0 5.2 0a2.6 2.6 0 1 0 -5.2 0M155.7 355.4a2.6 2.6 0 1 0 5.2 0a2.6 2.6 0 1 0 -5.2 0M188.9 344.3a2.6 2.6 0 1 0 5.2 0a2.6 2.6 0 1 0 -5.2 0M156.2 358.9a2.6 2.6 0 1 0 5.2 0a2.6 2.6 0 1 0 -5.2 0M152.8 366.0a2.6 2.6 0 1 0 5.2 0a2.6 2.6 0 1 0 -5.2 0M186.1 358.5a2.6 2.6 0 1 0 5.2 0a2.6 2.6 0 1 0 -5.2 0M201.3 345.6a2.6 2.6 0 1 0 5.2 0a2.6 2.6 0 1 0 -5.2 0M182.5 347.4a2.6 2.6 0 1 0 5.2 0a2.6 2.6 0 1 0 -5.2 0M152.1 355.0a2.6 2.6 0 1 0 5.2 0a2.6 2.6 0 1 0 -5.2 0M185.7 357.8a2.6 2.6 0 1 0 5.2 0a2.6 2.6 0 1 0 -5.2 0M196.5 355.5a2.6 2.6 0 1 0 5.2 0a2.6 2.6 0 1 0 -5.2 0M208.8 340.5a2.6 2.6 0 1 0 5.2 0a2.6 2.6 0 1 0 -5.2 0M168.5 355.7a2.6 2.6 0 1 0 5.2 0a2.6 2.6 0 1 0 -5.2 0M173.7 367.8a2.6 2.6 0 1 0 5.2 0a2.6 2.6 0 1 0 -5.2 0M193.0 362.5a2.6 2.6 0 1 0 5.2 0a2.6 2.6 0 1 0 -5.2 0M197.9 354.9a2.6 2.6 0 1 0 5.2 0a2.6 2.6 0 1 0 -5.2 0M186.3 343.4a2.6 2.6 0 1 0 5.2 0a2.6 2.6 0 1 0 -5.2 0M182.9 352.5a2.6 2.6 0 1 0 5.2 0a2.6 2.6 0 1 0 -5.2 0M165.4 375.0a2.6 2.6 0 1 0 5.2 0a2.6 2.6 0 1 0 -5.2 0M147.6 375.9a2.6 2.6 0 1 0 5.2 0a2.6 2.6 0 1 0 -5.2 0M184.8 357.3a2.6 2.6 0 1 0 5.2 0a2.6 2.6 0 1 0 -5.2 0M178.2 348.8a2.6 2.6 0 1 0 5.2 0a2.6 2.6 0 1 0 -5.2 0M153.8 372.9a2.6 2.6 0 1 0 5.2 0a2.6 2.6 0 1 0 -5.2 0M187.2 366.1a2.6 2.6 0 1 0 5.2 0a2.6 2.6 0 1 0 -5.2 0M145.6 371.3a2.6 2.6 0 1 0 5.2 0a2.6 2.6 0 1 0 -5.2 0M152.2 370.3a2.6 2.6 0 1 0 5.2 0a2.6 2.6 0 1 0 -5.2 0M159.8 362.7a2.6 2.6 0 1 0 5.2 0a2.6 2.6 0 1 0 -5.2 0M183.1 363.4a2.6 2.6 0 1 0 5.2 0a2.6 2.6 0 1 0 -5.2 0M185.3 356.0a2.6 2.6 0 1 0 5.2 0a2.6 2.6 0 1 0 -5.2 0M154.0 355.9a2.6 2.6 0 1 0 5.2 0a2.6 2.6 0 1 0 -5.2 0M161.0 372.8a2.6 2.6 0 1 0 5.2 0a2.6 2.6 0 1 0 -5.2 0M151.5 363.6a2.6 2.6 0 1 0 5.2 0a2.6 2.6 0 1 0 -5.2 0M201.2 340.2a2.6 2.6 0 1 0 5.2 0a2.6 2.6 0 1 0 -5.2 0M171.1 366.8a2.6 2.6 0 1 0 5.2 0a2.6 2.6 0 1 0 -5.2 0M146.1 364.2a2.6 2.6 0 1 0 5.2 0a2.6 2.6 0 1 0 -5.2 0M181.4 360.6a2.6 2.6 0 1 0 5.2 0a2.6 2.6 0 1 0 -5.2 0M186.7 356.2a2.6 2.6 0 1 0 5.2 0a2.6 2.6 0 1 0 -5.2 0M205.4 338.8a2.6 2.6 0 1 0 5.2 0a2.6 2.6 0 1 0 -5.2 0M161.3 354.6a2.6 2.6 0 1 0 5.2 0a2.6 2.6 0 1 0 -5.2 0M148.2 366.6a2.6 2.6 0 1 0 5.2 0a2.6 2.6 0 1 0 -5.2 0M171.4 367.3a2.6 2.6 0 1 0 5.2 0a2.6 2.6 0 1 0 -5.2 0M149.1 360.6a2.6 2.6 0 1 0 5.2 0a2.6 2.6 0 1 0 -5.2 0M146.2 366.5a2.6 2.6 0 1 0 5.2 0a2.6 2.6 0 1 0 -5.2 0M205.6 352.9a2.6 2.6 0 1 0 5.2 0a2.6 2.6 0 1 0 -5.2 0M158.2 362.6a2.6 2.6 0 1 0 5.2 0a2.6 2.6 0 1 0 -5.2 0M177.8 355.0a2.6 2.6 0 1 0 5.2 0a2.6 2.6 0 1 0 -5.2 0M197.5 357.0a2.6 2.6 0 1 0 5.2 0a2.6 2.6 0 1 0 -5.2 0M165.2 367.9a2.6 2.6 0 1 0 5.2 0a2.6 2.6 0 1 0 -5.2 0M148.5 358.0a2.6 2.6 0 1 0 5.2 0a2.6 2.6 0 1 0 -5.2 0M195.5 345.2a2.6 2.6 0 1 0 5.2 0a2.6 2.6 0 1 0 -5.2 0M145.8 359.5a2.6 2.6 0 1 0 5.2 0a2.6 2.6 0 1 0 -5.2 0M193.1 352.5a2.6 2.6 0 1 0 5.2 0a2.6 2.6 0 1 0 -5.2 0M192.9 352.9a2.6 2.6 0 1 0 5.2 0a2.6 2.6 0 1 0 -5.2 0M159.9 374.2a2.6 2.6 0 1 0 5.2 0a2.6 2.6 0 1 0 -5.2 0M160.3 375.6a2.6 2.6 0 1 0 5.2 0a2.6 2.6 0 1 0 -5.2 0M166.9 356.6a2.6 2.6 0 1 0 5.2 0a2.6 2.6 0 1 0 -5.2 0M189.9 345.0a2.6 2.6 0 1 0 5.2 0a2.6 2.6 0 1 0 -5.2 0M190.9 358.3a2.6 2.6 0 1 0 5.2 0a2.6 2.6 0 1 0 -5.2 0M180.8 358.8a2.6 2.6 0 1 0 5.2 0a2.6 2.6 0 1 0 -5.2 0M195.9 349.6a2.6 2.6 0 1 0 5.2 0a2.6 2.6 0 1 0 -5.2 0M162.4 360.5a2.6 2.6 0 1 0 5.2 0a2.6 2.6 0 1 0 -5.2 0M207.2 350.2a2.6 2.6 0 1 0 5.2 0a2.6 2.6 0 1 0 -5.2 0M201.7 358.3a2.6 2.6 0 1 0 5.2 0a2.6 2.6 0 1 0 -5.2 0M162.1 370.4a2.6 2.6 0 1 0 5.2 0a2.6 2.6 0 1 0 -5.2 0M193.0 341.0a2.6 2.6 0 1 0 5.2 0a2.6 2.6 0 1 0 -5.2 0M193.2 355.8a2.6 2.6 0 1 0 5.2 0a2.6 2.6 0 1 0 -5.2 0M201.7 350.7a2.6 2.6 0 1 0 5.2 0a2.6 2.6 0 1 0 -5.2 0M160.7 354.7a2.6 2.6 0 1 0 5.2 0a2.6 2.6 0 1 0 -5.2 0M185.8 350.6a2.6 2.6 0 1 0 5.2 0a2.6 2.6 0 1 0 -5.2 0M188.0 342.7a2.6 2.6 0 1 0 5.2 0a2.6 2.6 0 1 0 -5.2 0M175.4 351.2a2.6 2.6 0 1 0 5.2 0a2.6 2.6 0 1 0 -5.2 0M190.0 344.6a2.6 2.6 0 1 0 5.2 0a2.6 2.6 0 1 0 -5.2 0M173.4 354.8a2.6 2.6 0 1 0 5.2 0a2.6 2.6 0 1 0 -5.2 0M181.9 361.4a2.6 2.6 0 1 0 5.2 0a2.6 2.6 0 1 0 -5.2 0M159.0 362.0a2.6 2.6 0 1 0 5.2 0a2.6 2.6 0 1 0 -5.2 0M150.4 357.2a2.6 2.6 0 1 0 5.2 0a2.6 2.6 0 1 0 -5.2 0M154.7 377.5a2.6 2.6 0 1 0 5.2 0a2.6 2.6 0 1 0 -5.2 0M152.2 356.5a2.6 2.6 0 1 0 5.2 0a2.6 2.6 0 1 0 -5.2 0M167.5 371.0a2.6 2.6 0 1 0 5.2 0a2.6 2.6 0 1 0 -5.2 0M147.2 378.5a2.6 2.6 0 1 0 5.2 0a2.6 2.6 0 1 0 -5.2 0M189.7 350.1a2.6 2.6 0 1 0 5.2 0a2.6 2.6 0 1 0 -5.2 0M190.0 347.5a2.6 2.6 0 1 0 5.2 0a2.6 2.6 0 1 0 -5.2 0M149.6 365.0a2.6 2.6 0 1 0 5.2 0a2.6 2.6 0 1 0 -5.2 0M168.7 354.4a2.6 2.6 0 1 0 5.2 0a2.6 2.6 0 1 0 -5.2 0M197.9 339.6a2.6 2.6 0 1 0 5.2 0a2.6 2.6 0 1 0 -5.2 0M149.6 358.4a2.6 2.6 0 1 0 5.2 0a2.6 2.6 0 1 0 -5.2 0M203.9 334.6a2.6 2.6 0 1 0 5.2 0a2.6 2.6 0 1 0 -5.2 0M152.3 373.9a2.6 2.6 0 1 0 5.2 0a2.6 2.6 0 1 0 -5.2 0M152.6 377.9a2.6 2.6 0 1 0 5.2 0a2.6 2.6 0 1 0 -5.2 0M199.7 340.4a2.6 2.6 0 1 0 5.2 0a2.6 2.6 0 1 0 -5.2 0M186.0 347.4a2.6 2.6 0 1 0 5.2 0a2.6 2.6 0 1 0 -5.2 0M185.8 360.3a2.6 2.6 0 1 0 5.2 0a2.6 2.6 0 1 0 -5.2 0M151.8 376.5a2.6 2.6 0 1 0 5.2 0a2.6 2.6 0 1 0 -5.2 0M193.9 358.3a2.6 2.6 0 1 0 5.2 0a2.6 2.6 0 1 0 -5.2 0M165.8 364.7a2.6 2.6 0 1 0 5.2 0a2.6 2.6 0 1 0 -5.2 0M146.7 373.4a2.6 2.6 0 1 0 5.2 0a2.6 2.6 0 1 0 -5.2 0M163.5 358.4a2.6 2.6 0 1 0 5.2 0a2.6 2.6 0 1 0 -5.2 0M169.0 366.2a2.6 2.6 0 1 0 5.2 0a2.6 2.6 0 1 0 -5.2 0M207.1 343.3a2.6 2.6 0 1 0 5.2 0a2.6 2.6 0 1 0 -5.2 0M199.9 344.9a2.6 2.6 0 1 0 5.2 0a2.6 2.6 0 1 0 -5.2 0M147.4 369.6a2.6 2.6 0 1 0 5.2 0a2.6 2.6 0 1 0 -5.2 0M173.3 353.7a2.6 2.6 0 1 0 5.2 0a2.6 2.6 0 1 0 -5.2 0M167.6 357.4a2.6 2.6 0 1 0 5.2 0a2.6 2.6 0 1 0 -5.2 0M179.8 364.4a2.6 2.6 0 1 0 5.2 0a2.6 2.6 0 1 0 -5.2 0M200.6 357.1a2.6 2.6 0 1 0 5.2 0a2.6 2.6 0 1 0 -5.2 0M197.9 356.9a2.6 2.6 0 1 0 5.2 0a2.6 2.6 0 1 0 -5.2 0M145.5 374.9a2.6 2.6 0 1 0 5.2 0a2.6 2.6 0 1 0 -5.2 0M194.2 339.6a2.6 2.6 0 1 0 5.2 0a2.6 2.6 0 1 0 -5.2 0M145.7 368.0a2.6 2.6 0 1 0 5.2 0a2.6 2.6 0 1 0 -5.2 0M176.9 351.7a2.6 2.6 0 1 0 5.2 0a2.6 2.6 0 1 0 -5.2 0M157.2 365.6a2.6 2.6 0 1 0 5.2 0a2.6 2.6 0 1 0 -5.2 0M167.6 354.4a2.6 2.6 0 1 0 5.2 0a2.6 2.6 0 1 0 -5.2 0M162.1 353.4a2.6 2.6 0 1 0 5.2 0a2.6 2.6 0 1 0 -5.2 0M163.6 370.4a2.6 2.6 0 1 0 5.2 0a2.6 2.6 0 1 0 -5.2 0M190.2 353.2a2.6 2.6 0 1 0 5.2 0a2.6 2.6 0 1 0 -5.2 0M152.4 363.5a2.6 2.6 0 1 0 5.2 0a2.6 2.6 0 1 0 -5.2 0M150.6 360.2a2.6 2.6 0 1 0 5.2 0a2.6 2.6 0 1 0 -5.2 0M190.0 346.3a2.6 2.6 0 1 0 5.2 0a2.6 2.6 0 1 0 -5.2 0M185.6 358.8a2.6 2.6 0 1 0 5.2 0a2.6 2.6 0 1 0 -5.2 0M171.1 363.7a2.6 2.6 0 1 0 5.2 0a2.6 2.6 0 1 0 -5.2 0M202.4 356.1a2.6 2.6 0 1 0 5.2 0a2.6 2.6 0 1 0 -5.2 0M202.3 357.7a2.6 2.6 0 1 0 5.2 0a2.6 2.6 0 1 0 -5.2 0M158.6 370.7a2.6 2.6 0 1 0 5.2 0a2.6 2.6 0 1 0 -5.2 0M203.1 345.8a2.6 2.6 0 1 0 5.2 0a2.6 2.6 0 1 0 -5.2 0M169.7 352.5a2.6 2.6 0 1 0 5.2 0a2.6 2.6 0 1 0 -5.2 0M160.3 365.5a2.6 2.6 0 1 0 5.2 0a2.6 2.6 0 1 0 -5.2 0M179.4 351.7a2.6 2.6 0 1 0 5.2 0a2.6 2.6 0 1 0 -5.2 0M193.6 347.9a2.6 2.6 0 1 0 5.2 0a2.6 2.6 0 1 0 -5.2 0M167.7 366.5a2.6 2.6 0 1 0 5.2 0a2.6 2.6 0 1 0 -5.2 0M155.3 357.7a2.6 2.6 0 1 0 5.2 0a2.6 2.6 0 1 0 -5.2 0M187.8 348.5a2.6 2.6 0 1 0 5.2 0a2.6 2.6 0 1 0 -5.2 0M156.3 367.2a2.6 2.6 0 1 0 5.2 0a2.6 2.6 0 1 0 -5.2 0M194.9 348.8a2.6 2.6 0 1 0 5.2 0a2.6 2.6 0 1 0 -5.2 0M153.5 367.4a2.6 2.6 0 1 0 5.2 0a2.6 2.6 0 1 0 -5.2 0M202.0 352.7a2.6 2.6 0 1 0 5.2 0a2.6 2.6 0 1 0 -5.2 0M157.7 370.1a2.6 2.6 0 1 0 5.2 0a2.6 2.6 0 1 0 -5.2 0M190.4 344.8a2.6 2.6 0 1 0 5.2 0a2.6 2.6 0 1 0 -5.2 0M155.3 374.2a2.6 2.6 0 1 0 5.2 0a2.6 2.6 0 1 0 -5.2 0M161.2 368.5a2.6 2.6 0 1 0 5.2 0a2.6 2.6 0 1 0 -5.2 0M178.8 366.2a2.6 2.6 0 1 0 5.2 0a2.6 2.6 0 1 0 -5.2 0M166.4 370.2a2.6 2.6 0 1 0 5.2 0a2.6 2.6 0 1 0 -5.2 0M207.8 337.5a2.6 2.6 0 1 0 5.2 0a2.6 2.6 0 1 0 -5.2 0M151.9 355.8a2.6 2.6 0 1 0 5.2 0a2.6 2.6 0 1 0 -5.2 0M151.9 369.6a2.6 2.6 0 1 0 5.2 0a2.6 2.6 0 1 0 -5.2 0M208.4 335.6a2.6 2.6 0 1 0 5.2 0a2.6 2.6 0 1 0 -5.2 0M192.3 353.6a2.6 2.6 0 1 0 5.2 0a2.6 2.6 0 1 0 -5.2 0M158.0 361.9a2.6 2.6 0 1 0 5.2 0a2.6 2.6 0 1 0 -5.2 0M152.2 373.9a2.6 2.6 0 1 0 5.2 0a2.6 2.6 0 1 0 -5.2 0M170.3 372.6a2.6 2.6 0 1 0 5.2 0a2.6 2.6 0 1 0 -5.2 0M170.9 354.2a2.6 2.6 0 1 0 5.2 0a2.6 2.6 0 1 0 -5.2 0M189.8 353.3a2.6 2.6 0 1 0 5.2 0a2.6 2.6 0 1 0 -5.2 0M185.9 356.1a2.6 2.6 0 1 0 5.2 0a2.6 2.6 0 1 0 -5.2 0M154.5 363.7a2.6 2.6 0 1 0 5.2 0a2.6 2.6 0 1 0 -5.2 0M171.3 355.3a2.6 2.6 0 1 0 5.2 0a2.6 2.6 0 1 0 -5.2 0M203.5 347.2a2.6 2.6 0 1 0 5.2 0a2.6 2.6 0 1 0 -5.2 0M182.1 350.7a2.6 2.6 0 1 0 5.2 0a2.6 2.6 0 1 0 -5.2 0M172.4 367.1a2.6 2.6 0 1 0 5.2 0a2.6 2.6 0 1 0 -5.2 0M191.6 343.3a2.6 2.6 0 1 0 5.2 0a2.6 2.6 0 1 0 -5.2 0M194.9 345.9a2.6 2.6 0 1 0 5.2 0a2.6 2.6 0 1 0 -5.2 0M200.0 343.4a2.6 2.6 0 1 0 5.2 0a2.6 2.6 0 1 0 -5.2 0M186.5 356.1a2.6 2.6 0 1 0 5.2 0a2.6 2.6 0 1 0 -5.2 0M165.4 359.9a2.6 2.6 0 1 0 5.2 0a2.6 2.6 0 1 0 -5.2 0M151.7 368.8a2.6 2.6 0 1 0 5.2 0a2.6 2.6 0 1 0 -5.2 0M195.5 345.3a2.6 2.6 0 1 0 5.2 0a2.6 2.6 0 1 0 -5.2 0M185.7 361.3a2.6 2.6 0 1 0 5.2 0a2.6 2.6 0 1 0 -5.2 0M172.5 361.6a2.6 2.6 0 1 0 5.2 0a2.6 2.6 0 1 0 -5.2 0M224.3 337.6a2.6 2.6 0 1 0 5.2 0a2.6 2.6 0 1 0 -5.2 0M225.6 329.0a2.6 2.6 0 1 0 5.2 0a2.6 2.6 0 1 0 -5.2 0M213.8 342.0a2.6 2.6 0 1 0 5.2 0a2.6 2.6 0 1 0 -5.2 0M228.1 333.7a2.6 2.6 0 1 0 5.2 0a2.6 2.6 0 1 0 -5.2 0M221.2 332.8a2.6 2.6 0 1 0 5.2 0a2.6 2.6 0 1 0 -5.2 0M210.3 345.6a2.6 2.6 0 1 0 5.2 0a2.6 2.6 0 1 0 -5.2 0M213.3 340.5a2.6 2.6 0 1 0 5.2 0a2.6 2.6 0 1 0 -5.2 0M232.0 327.5a2.6 2.6 0 1 0 5.2 0a2.6 2.6 0 1 0 -5.2 0M211.8 344.3a2.6 2.6 0 1 0 5.2 0a2.6 2.6 0 1 0 -5.2 0M222.4 335.2a2.6 2.6 0 1 0 5.2 0a2.6 2.6 0 1 0 -5.2 0M221.7 337.0a2.6 2.6 0 1 0 5.2 0a2.6 2.6 0 1 0 -5.2 0M229.3 330.0a2.6 2.6 0 1 0 5.2 0a2.6 2.6 0 1 0 -5.2 0M219.2 334.6a2.6 2.6 0 1 0 5.2 0a2.6 2.6 0 1 0 -5.2 0M214.4 341.2a2.6 2.6 0 1 0 5.2 0a2.6 2.6 0 1 0 -5.2 0M218.8 337.4a2.6 2.6 0 1 0 5.2 0a2.6 2.6 0 1 0 -5.2 0M212.3 338.2a2.6 2.6 0 1 0 5.2 0a2.6 2.6 0 1 0 -5.2 0M217.9 347.8a2.6 2.6 0 1 0 5.2 0a2.6 2.6 0 1 0 -5.2 0M216.0 344.2a2.6 2.6 0 1 0 5.2 0a2.6 2.6 0 1 0 -5.2 0M209.7 347.7a2.6 2.6 0 1 0 5.2 0a2.6 2.6 0 1 0 -5.2 0M219.5 337.9a2.6 2.6 0 1 0 5.2 0a2.6 2.6 0 1 0 -5.2 0M217.9 345.0a2.6 2.6 0 1 0 5.2 0a2.6 2.6 0 1 0 -5.2 0M214.8 340.1a2.6 2.6 0 1 0 5.2 0a2.6 2.6 0 1 0 -5.2 0M232.0 327.4a2.6 2.6 0 1 0 5.2 0a2.6 2.6 0 1 0 -5.2 0M214.7 339.4a2.6 2.6 0 1 0 5.2 0a2.6 2.6 0 1 0 -5.2 0M218.8 345.1a2.6 2.6 0 1 0 5.2 0a2.6 2.6 0 1 0 -5.2 0M212.5 341.0a2.6 2.6 0 1 0 5.2 0a2.6 2.6 0 1 0 -5.2 0M228.8 329.1a2.6 2.6 0 1 0 5.2 0a2.6 2.6 0 1 0 -5.2 0M220.7 339.1a2.6 2.6 0 1 0 5.2 0a2.6 2.6 0 1 0 -5.2 0M214.8 337.0a2.6 2.6 0 1 0 5.2 0a2.6 2.6 0 1 0 -5.2 0M217.9 339.7a2.6 2.6 0 1 0 5.2 0a2.6 2.6 0 1 0 -5.2 0M229.0 326.2a2.6 2.6 0 1 0 5.2 0a2.6 2.6 0 1 0 -5.2 0M220.6 342.8a2.6 2.6 0 1 0 5.2 0a2.6 2.6 0 1 0 -5.2 0M222.6 343.3a2.6 2.6 0 1 0 5.2 0a2.6 2.6 0 1 0 -5.2 0M229.4 332.2a2.6 2.6 0 1 0 5.2 0a2.6 2.6 0 1 0 -5.2 0M229.8 332.8a2.6 2.6 0 1 0 5.2 0a2.6 2.6 0 1 0 -5.2 0M218.4 344.8a2.6 2.6 0 1 0 5.2 0a2.6 2.6 0 1 0 -5.2 0M219.6 345.0a2.6 2.6 0 1 0 5.2 0a2.6 2.6 0 1 0 -5.2 0M209.5 343.6a2.6 2.6 0 1 0 5.2 0a2.6 2.6 0 1 0 -5.2 0M216.1 346.3a2.6 2.6 0 1 0 5.2 0a2.6 2.6 0 1 0 -5.2 0M216.6 342.7a2.6 2.6 0 1 0 5.2 0a2.6 2.6 0 1 0 -5.2 0M219.0 341.6a2.6 2.6 0 1 0 5.2 0a2.6 2.6 0 1 0 -5.2 0M221.3 341.6a2.6 2.6 0 1 0 5.2 0a2.6 2.6 0 1 0 -5.2 0M235.1 325.3a2.6 2.6 0 1 0 5.2 0a2.6 2.6 0 1 0 -5.2 0M217.7 344.0a2.6 2.6 0 1 0 5.2 0a2.6 2.6 0 1 0 -5.2 0M235.8 330.0a2.6 2.6 0 1 0 5.2 0a2.6 2.6 0 1 0 -5.2 0M220.2 327.9a2.6 2.6 0 1 0 5.2 0a2.6 2.6 0 1 0 -5.2 0M223.9 340.5a2.6 2.6 0 1 0 5.2 0a2.6 2.6 0 1 0 -5.2 0M227.1 328.1a2.6 2.6 0 1 0 5.2 0a2.6 2.6 0 1 0 -5.2 0M222.1 342.8a2.6 2.6 0 1 0 5.2 0a2.6 2.6 0 1 0 -5.2 0M222.9 338.9a2.6 2.6 0 1 0 5.2 0a2.6 2.6 0 1 0 -5.2 0M232.9 330.3a2.6 2.6 0 1 0 5.2 0a2.6 2.6 0 1 0 -5.2 0M224.0 327.8a2.6 2.6 0 1 0 5.2 0a2.6 2.6 0 1 0 -5.2 0M231.2 326.2a2.6 2.6 0 1 0 5.2 0a2.6 2.6 0 1 0 -5.2 0M230.5 327.9a2.6 2.6 0 1 0 5.2 0a2.6 2.6 0 1 0 -5.2 0M217.6 341.8a2.6 2.6 0 1 0 5.2 0a2.6 2.6 0 1 0 -5.2 0M227.9 333.4a2.6 2.6 0 1 0 5.2 0a2.6 2.6 0 1 0 -5.2 0M244.3 326.5a2.6 2.6 0 1 0 5.2 0a2.6 2.6 0 1 0 -5.2 0M218.2 337.2a2.6 2.6 0 1 0 5.2 0a2.6 2.6 0 1 0 -5.2 0M242.5 325.7a2.6 2.6 0 1 0 5.2 0a2.6 2.6 0 1 0 -5.2 0M227.7 334.5a2.6 2.6 0 1 0 5.2 0a2.6 2.6 0 1 0 -5.2 0M223.3 333.7a2.6 2.6 0 1 0 5.2 0a2.6 2.6 0 1 0 -5.2 0M231.5 330.4a2.6 2.6 0 1 0 5.2 0a2.6 2.6 0 1 0 -5.2 0M226.7 331.3a2.6 2.6 0 1 0 5.2 0a2.6 2.6 0 1 0 -5.2 0M225.8 336.7a2.6 2.6 0 1 0 5.2 0a2.6 2.6 0 1 0 -5.2 0M218.5 339.5a2.6 2.6 0 1 0 5.2 0a2.6 2.6 0 1 0 -5.2 0M193.7 346.4a2.6 2.6 0 1 0 5.2 0a2.6 2.6 0 1 0 -5.2 0M192.6 343.3a2.6 2.6 0 1 0 5.2 0a2.6 2.6 0 1 0 -5.2 0M210.8 344.0a2.6 2.6 0 1 0 5.2 0a2.6 2.6 0 1 0 -5.2 0M210.4 350.8a2.6 2.6 0 1 0 5.2 0a2.6 2.6 0 1 0 -5.2 0M213.0 340.8a2.6 2.6 0 1 0 5.2 0a2.6 2.6 0 1 0 -5.2 0M197.3 339.0a2.6 2.6 0 1 0 5.2 0a2.6 2.6 0 1 0 -5.2 0M210.1 348.3a2.6 2.6 0 1 0 5.2 0a2.6 2.6 0 1 0 -5.2 0M207.6 345.2a2.6 2.6 0 1 0 5.2 0a2.6 2.6 0 1 0 -5.2 0M200.6 349.8a2.6 2.6 0 1 0 5.2 0a2.6 2.6 0 1 0 -5.2 0M201.0 350.1a2.6 2.6 0 1 0 5.2 0a2.6 2.6 0 1 0 -5.2 0M193.9 353.9a2.6 2.6 0 1 0 5.2 0a2.6 2.6 0 1 0 -5.2 0M193.5 341.3a2.6 2.6 0 1 0 5.2 0a2.6 2.6 0 1 0 -5.2 0M192.8 348.8a2.6 2.6 0 1 0 5.2 0a2.6 2.6 0 1 0 -5.2 0M203.5 340.9a2.6 2.6 0 1 0 5.2 0a2.6 2.6 0 1 0 -5.2 0M209.8 343.9a2.6 2.6 0 1 0 5.2 0a2.6 2.6 0 1 0 -5.2 0M187.3 338.0a2.6 2.6 0 1 0 5.2 0a2.6 2.6 0 1 0 -5.2 0M142.7 342.1a2.6 2.6 0 1 0 5.2 0a2.6 2.6 0 1 0 -5.2 0M176.8 334.5a2.6 2.6 0 1 0 5.2 0a2.6 2.6 0 1 0 -5.2 0M167.3 337.5a2.6 2.6 0 1 0 5.2 0a2.6 2.6 0 1 0 -5.2 0M163.4 332.3a2.6 2.6 0 1 0 5.2 0a2.6 2.6 0 1 0 -5.2 0M139.1 347.8a2.6 2.6 0 1 0 5.2 0a2.6 2.6 0 1 0 -5.2 0M180.7 339.8a2.6 2.6 0 1 0 5.2 0a2.6 2.6 0 1 0 -5.2 0M165.8 336.2a2.6 2.6 0 1 0 5.2 0a2.6 2.6 0 1 0 -5.2 0M176.4 338.8a2.6 2.6 0 1 0 5.2 0a2.6 2.6 0 1 0 -5.2 0M184.7 344.3a2.6 2.6 0 1 0 5.2 0a2.6 2.6 0 1 0 -5.2 0M178.3 347.4a2.6 2.6 0 1 0 5.2 0a2.6 2.6 0 1 0 -5.2 0M150.1 332.6a2.6 2.6 0 1 0 5.2 0a2.6 2.6 0 1 0 -5.2 0M147.4 334.9a2.6 2.6 0 1 0 5.2 0a2.6 2.6 0 1 0 -5.2 0M141.6 332.8a2.6 2.6 0 1 0 5.2 0a2.6 2.6 0 1 0 -5.2 0M165.3 345.9a2.6 2.6 0 1 0 5.2 0a2.6 2.6 0 1 0 -5.2 0M160.3 347.2a2.6 2.6 0 1 0 5.2 0a2.6 2.6 0 1 0 -5.2 0M182.9 333.0a2.6 2.6 0 1 0 5.2 0a2.6 2.6 0 1 0 -5.2 0M167.3 338.4a2.6 2.6 0 1 0 5.2 0a2.6 2.6 0 1 0 -5.2 0M143.4 347.3a2.6 2.6 0 1 0 5.2 0a2.6 2.6 0 1 0 -5.2 0M150.3 341.0a2.6 2.6 0 1 0 5.2 0a2.6 2.6 0 1 0 -5.2 0" stroke="#0000ff" stroke-width="0.9" fill="none"/><g><use href="#st" x="218.7" y="65.9"/><use href="#st" x="233.0" y="69.2"/><use href="#st" x="343.6" y="45.9"/><use href="#st" x="343.6" y="50.3"/><use href="#st" x="316.1" y="51.6"/><use href="#st" x="320.0" y="52.0"/><use href="#st" x="317.2" y="56.5"/><use href="#st" x="251.8" y="63.1"/><use href="#st" x="314.5" y="63.1"/><use href="#st" x="329.7" y="63.5"/><use href="#st" x="319.4" y="69.2"/><use href="#st" x="320.9" y="71.4"/><use href="#st" x="344.3" y="70.8"/><use href="#st" x="302.4" y="73.6"/><use href="#st" x="302.9" y="75.4"/><use href="#st" x="310.1" y="75.4"/><use href="#st" x="251.8" y="81.3"/><use href="#st" x="302.2" y="86.9"/><use href="#st" x="305.1" y="84.7"/><use href="#st" x="320.5" y="82.9"/><use href="#st" x="324.4" y="85.5"/><use href="#st" x="278.2" y="91.0"/><use href="#st" x="314.5" y="92.8"/><use href="#st" x="326.0" y="92.8"/><use href="#st" x="331.5" y="91.7"/><use href="#st" x="329.7" y="94.3"/><use href="#st" x="290.7" y="96.5"/><use href="#st" x="300.7" y="98.7"/><use href="#st" x="308.4" y="99.4"/><use href="#st" x="322.7" y="98.3"/><use href="#st" x="292.5" y="102.7"/><use href="#st" x="295.6" y="102.7"/><use href="#st" x="312.3" y="103.4"/><use href="#st" x="320.0" y="104.5"/><use href="#st" x="344.7" y="104.9"/><use href="#st" x="278.6" y="107.1"/><use href="#st" x="326.0" y="104.9"/><use href="#st" x="354.8" y="42.1"/><use href="#st" x="359.9" y="43.2"/><use href="#st" x="376.4" y="46.5"/><use href="#st" x="378.2" y="55.4"/><use href="#st" x="384.8" y="59.8"/><use href="#st" x="379.7" y="62.6"/><use href="#st" x="379.7" y="76.3"/><use href="#st" x="381.9" y="76.3"/><use href="#st" x="409.0" y="80.2"/><use href="#st" x="379.7" y="85.1"/><use href="#st" x="358.4" y="86.2"/><use href="#st" x="352.2" y="89.5"/><use href="#st" x="358.4" y="92.4"/><use href="#st" x="395.2" y="91.7"/><use href="#st" x="407.7" y="91.3"/><use href="#st" x="364.3" y="98.3"/><use href="#st" x="362.1" y="101.6"/><use href="#st" x="360.6" y="104.9"/><use href="#st" x="374.2" y="105.6"/><use href="#st" x="217.8" y="124.5"/><use href="#st" x="227.1" y="156.5"/><use href="#st" x="240.3" y="155.4"/><use href="#st" x="234.4" y="168.6"/><use href="#st" x="246.9" y="174.1"/><use href="#st" x="248.5" y="176.3"/><use href="#st" x="236.3" y="179.6"/><use href="#st" x="237.7" y="184.0"/><use href="#st" x="237.0" y="181.8"/><use href="#st" x="243.6" y="186.2"/><use href="#st" x="248.0" y="182.4"/><use href="#st" x="229.7" y="190.0"/><use href="#st" x="228.9" y="191.7"/><use href="#st" x="244.3" y="191.3"/><use href="#st" x="229.7" y="196.5"/><use href="#st" x="222.7" y="198.3"/><use href="#st" x="232.6" y="200.5"/><use href="#st" x="216.7" y="204.0"/><use href="#st" x="234.8" y="204.9"/><use href="#st" x="246.9" y="206.0"/><use href="#st" x="207.7" y="206.7"/><use href="#st" x="230.4" y="207.1"/><use href="#st" x="359.9" y="109.9"/><use href="#st" x="364.3" y="111.0"/><use href="#st" x="351.8" y="111.0"/><use href="#st" x="368.7" y="115.0"/><use href="#st" x="363.2" y="117.6"/><use href="#st" x="353.3" y="119.8"/><use href="#st" x="352.6" y="127.5"/><use href="#st" x="351.8" y="132.6"/><use href="#st" x="359.9" y="139.2"/><use href="#st" x="358.8" y="150.2"/><use href="#st" x="370.9" y="151.8"/><use href="#st" x="352.6" y="155.5"/><use href="#st" x="365.0" y="162.3"/><use href="#st" x="365.0" y="175.3"/><use href="#st" x="356.6" y="184.8"/><use href="#st" x="359.9" y="183.7"/><use href="#st" x="355.5" y="185.5"/><use href="#st" x="352.6" y="195.2"/><use href="#st" x="332.2" y="198.3"/><use href="#st" x="338.8" y="197.6"/><use href="#st" x="335.5" y="199.8"/><use href="#st" x="341.0" y="201.2"/><use href="#st" x="339.3" y="210.9"/><use href="#st" x="331.1" y="215.3"/><use href="#st" x="337.7" y="222.5"/><use href="#st" x="331.1" y="221.4"/><use href="#st" x="103.7" y="309.7"/><use href="#st" x="89.5" y="369.7"/><use href="#st" x="119.8" y="326.5"/><use href="#st" x="122.0" y="332.0"/><use href="#st" x="126.4" y="333.1"/><use href="#st" x="128.6" y="334.2"/><use href="#st" x="133.0" y="330.9"/><use href="#st" x="136.3" y="329.8"/><use href="#st" x="138.5" y="332.0"/><use href="#st" x="133.0" y="336.4"/><use href="#st" x="136.3" y="337.5"/><use href="#st" x="140.7" y="332.0"/><use href="#st" x="144.1" y="329.8"/><use href="#st" x="146.3" y="328.7"/><use href="#st" x="148.5" y="329.8"/><use href="#st" x="141.9" y="336.4"/><use href="#st" x="145.2" y="337.5"/><use href="#st" x="146.3" y="311.1"/><use href="#st" x="103.3" y="310.6"/><use href="#st" x="102.6" y="372.3"/><use href="#st" x="112.8" y="376.2"/><use href="#st" x="115.3" y="371.1"/><use href="#st" x="116.6" y="362.8"/><use href="#st" x="119.1" y="362.1"/><use href="#st" x="117.9" y="364.0"/><use href="#st" x="121.7" y="357.7"/><use href="#st" x="127.4" y="376.2"/><use href="#st" x="126.8" y="369.8"/><use href="#st" x="129.4" y="355.1"/><use href="#st" x="135.7" y="360.2"/><use href="#st" x="138.3" y="369.8"/><use href="#st" x="140.9" y="372.3"/><use href="#st" x="151.1" y="353.8"/><use href="#st" x="156.2" y="367.9"/><use href="#st" x="157.4" y="370.4"/><use href="#st" x="156.2" y="355.1"/><use href="#st" x="158.1" y="357.7"/><use href="#st" x="122.0" y="358.5"/><use href="#st" x="127.5" y="357.4"/><use href="#st" x="190.7" y="222.0"/><use href="#st" x="189.2" y="224.2"/><use href="#st" x="173.8" y="235.7"/><use href="#st" x="185.9" y="236.8"/><use href="#st" x="201.1" y="230.4"/><use href="#st" x="207.7" y="239.6"/><use href="#st" x="158.8" y="245.2"/><use href="#st" x="186.3" y="248.9"/><use href="#st" x="202.9" y="248.5"/><use href="#st" x="173.1" y="259.5"/><use href="#st" x="184.1" y="268.3"/><use href="#st" x="176.0" y="276.0"/><use href="#st" x="171.6" y="288.5"/><use href="#st" x="190.1" y="289.9"/><use href="#st" x="202.9" y="288.1"/><use href="#st" x="182.6" y="293.6"/><use href="#st" x="195.2" y="296.9"/><use href="#st" x="190.7" y="296.5"/><use href="#st" x="208.4" y="292.1"/><use href="#st" x="202.9" y="296.9"/><use href="#st" x="146.2" y="311.1"/><use href="#st" x="170.8" y="290.4"/><use href="#st" x="169.1" y="313.8"/><use href="#st" x="155.0" y="318.2"/><use href="#st" x="164.7" y="323.5"/><use href="#st" x="166.4" y="325.2"/><use href="#st" x="162.0" y="326.1"/><use href="#st" x="147.0" y="328.8"/><use href="#st" x="151.5" y="328.8"/><use href="#st" x="155.9" y="328.8"/><use href="#st" x="160.3" y="328.8"/><use href="#st" x="181.9" y="292.8"/><use href="#st" x="203.0" y="295.9"/><use href="#st" x="185.0" y="297.6"/><use href="#st" x="193.8" y="300.7"/><use href="#st" x="198.2" y="300.3"/><use href="#st" x="196.4" y="303.8"/><use href="#st" x="200.8" y="302.0"/><use href="#st" x="203.5" y="303.8"/><use href="#st" x="205.2" y="306.4"/><use href="#st" x="208.8" y="299.4"/><use href="#st" x="208.8" y="302.9"/><use href="#st" x="190.3" y="306.4"/><use href="#st" x="192.9" y="308.2"/><use href="#st" x="196.4" y="309.1"/><use href="#st" x="199.1" y="307.3"/><use href="#st" x="201.7" y="309.1"/><use href="#st" x="204.4" y="310.0"/><use href="#st" x="207.0" y="308.2"/><use href="#st" x="189.4" y="310.8"/><use href="#st" x="192.0" y="312.6"/><use href="#st" x="194.7" y="311.7"/><use href="#st" x="198.2" y="312.6"/><use href="#st" x="200.8" y="311.7"/><use href="#st" x="203.5" y="313.5"/><use href="#st" x="206.1" y="312.6"/><use href="#st" x="208.8" y="310.8"/><use href="#st" x="180.6" y="310.8"/><use href="#st" x="184.1" y="310.8"/><use href="#st" x="176.2" y="313.5"/><use href="#st" x="170.9" y="315.2"/><use href="#st" x="180.6" y="316.1"/><use href="#st" x="185.0" y="316.1"/><use href="#st" x="187.6" y="317.9"/><use href="#st" x="192.0" y="317.0"/><use href="#st" x="196.4" y="317.0"/><use href="#st" x="200.0" y="317.9"/><use href="#st" x="204.4" y="317.0"/><use href="#st" x="175.2" y="313.8"/><use href="#st" x="177.0" y="316.4"/><use href="#st" x="173.5" y="323.5"/><use href="#st" x="177.0" y="327.0"/><use href="#st" x="169.1" y="327.0"/><use href="#st" x="178.8" y="323.5"/><use href="#st" x="232.5" y="208.9"/><use href="#st" x="244.4" y="209.3"/><use href="#st" x="244.8" y="211.1"/><use href="#st" x="237.8" y="216.4"/><use href="#st" x="213.9" y="224.2"/><use href="#st" x="215.6" y="226.9"/><use href="#st" x="238.2" y="226.5"/><use href="#st" x="230.7" y="228.3"/><use href="#st" x="222.3" y="231.3"/><use href="#st" x="227.2" y="231.8"/><use href="#st" x="216.2" y="232.7"/><use href="#st" x="242.6" y="231.8"/><use href="#st" x="244.4" y="233.6"/><use href="#st" x="224.1" y="235.3"/><use href="#st" x="215.7" y="236.2"/><use href="#st" x="217.9" y="237.1"/><use href="#st" x="219.3" y="237.5"/><use href="#st" x="227.6" y="239.3"/><use href="#st" x="229.8" y="241.5"/><use href="#st" x="233.8" y="238.0"/><use href="#st" x="222.3" y="240.2"/><use href="#st" x="243.9" y="238.4"/><use href="#st" x="246.1" y="237.1"/><use href="#st" x="227.6" y="246.3"/><use href="#st" x="235.6" y="245.0"/><use href="#st" x="238.2" y="244.6"/><use href="#st" x="245.2" y="245.4"/><use href="#st" x="212.6" y="247.2"/><use href="#st" x="212.6" y="248.9"/><use href="#st" x="224.1" y="250.6"/><use href="#st" x="217.0" y="254.2"/><use href="#st" x="221.9" y="254.6"/><use href="#st" x="241.3" y="252.4"/><use href="#st" x="232.5" y="259.5"/><use href="#st" x="218.4" y="262.5"/><use href="#st" x="210.4" y="266.5"/><use href="#st" x="226.7" y="266.5"/><use href="#st" x="228.9" y="268.3"/><use href="#st" x="245.2" y="263.9"/><use href="#st" x="247.0" y="265.6"/><use href="#st" x="245.2" y="268.3"/><use href="#st" x="218.4" y="271.3"/><use href="#st" x="223.2" y="270.5"/><use href="#st" x="228.5" y="271.8"/><use href="#st" x="221.5" y="273.6"/><use href="#st" x="238.2" y="273.6"/><use href="#st" x="240.8" y="274.4"/><use href="#st" x="243.5" y="273.6"/><use href="#st" x="240.0" y="277.1"/><use href="#st" x="243.5" y="277.1"/><use href="#st" x="247.0" y="276.2"/><use href="#st" x="237.3" y="279.7"/><use href="#st" x="240.8" y="280.6"/><use href="#st" x="245.2" y="279.7"/><use href="#st" x="247.9" y="281.5"/><use href="#st" x="248.8" y="273.6"/><use href="#st" x="229.4" y="278.8"/><use href="#st" x="222.3" y="283.2"/><use href="#st" x="227.6" y="285.9"/><use href="#st" x="232.9" y="285.0"/><use href="#st" x="235.6" y="286.8"/><use href="#st" x="243.5" y="285.0"/><use href="#st" x="221.5" y="288.9"/><use href="#st" x="225.0" y="289.8"/><use href="#st" x="230.3" y="290.6"/><use href="#st" x="232.9" y="289.8"/><use href="#st" x="234.7" y="292.4"/><use href="#st" x="217.0" y="294.2"/><use href="#st" x="219.7" y="295.9"/><use href="#st" x="222.3" y="295.0"/><use href="#st" x="226.7" y="295.0"/><use href="#st" x="228.5" y="296.8"/><use href="#st" x="232.0" y="295.9"/><use href="#st" x="236.4" y="296.8"/><use href="#st" x="240.0" y="293.3"/><use href="#st" x="243.5" y="292.0"/><use href="#st" x="210.9" y="298.6"/><use href="#st" x="212.6" y="300.3"/><use href="#st" x="214.4" y="302.1"/><use href="#st" x="224.1" y="302.1"/><use href="#st" x="226.7" y="303.0"/><use href="#st" x="219.7" y="303.9"/><use href="#st" x="239.1" y="303.9"/><use href="#st" x="240.0" y="306.5"/><use href="#st" x="246.1" y="302.1"/><use href="#st" x="247.0" y="306.5"/><use href="#st" x="215.3" y="307.4"/><use href="#st" x="216.2" y="310.0"/><use href="#st" x="211.8" y="312.7"/><use href="#st" x="240.8" y="311.8"/><use href="#st" x="246.1" y="312.7"/><use href="#st" x="213.5" y="314.4"/><use href="#st" x="218.8" y="315.3"/><use href="#st" x="234.7" y="316.2"/><use href="#st" x="236.4" y="318.4"/><use href="#st" x="232.9" y="318.8"/><use href="#st" x="211.8" y="318.8"/><use href="#st" x="216.2" y="320.6"/><use href="#st" x="220.6" y="319.7"/><use href="#st" x="239.1" y="319.7"/><use href="#st" x="243.5" y="318.8"/><use href="#st" x="247.0" y="317.1"/><use href="#st" x="245.2" y="321.5"/><use href="#st" x="217.0" y="324.1"/><use href="#st" x="212.6" y="325.0"/><use href="#st" x="225.0" y="324.1"/><use href="#st" x="228.5" y="325.9"/><use href="#st" x="236.4" y="324.1"/><use href="#st" x="240.0" y="325.0"/><use href="#st" x="278.9" y="108.2"/><use href="#st" x="298.5" y="108.6"/><use href="#st" x="280.3" y="114.6"/><use href="#st" x="281.1" y="116.8"/><use href="#st" x="282.5" y="119.0"/><use href="#st" x="291.9" y="115.2"/><use href="#st" x="295.2" y="115.7"/><use href="#st" x="296.8" y="113.5"/><use href="#st" x="286.3" y="121.0"/><use href="#st" x="281.4" y="122.3"/><use href="#st" x="291.6" y="122.3"/><use href="#st" x="293.2" y="124.5"/><use href="#st" x="297.4" y="123.4"/><use href="#st" x="299.6" y="131.1"/><use href="#st" x="272.6" y="134.4"/><use href="#st" x="297.4" y="134.4"/><use href="#st" x="291.9" y="137.2"/><use href="#st" x="277.5" y="137.5"/><use href="#st" x="275.3" y="139.9"/><use href="#st" x="271.5" y="141.0"/><use href="#st" x="284.1" y="139.9"/><use href="#st" x="285.8" y="142.7"/><use href="#st" x="291.0" y="143.0"/><use href="#st" x="273.7" y="146.0"/><use href="#st" x="270.9" y="148.7"/><use href="#st" x="277.0" y="148.7"/><use href="#st" x="272.0" y="150.4"/><use href="#st" x="262.1" y="148.7"/><use href="#st" x="263.0" y="151.5"/><use href="#st" x="263.2" y="153.7"/><use href="#st" x="282.5" y="150.4"/><use href="#st" x="295.7" y="148.7"/><use href="#st" x="299.0" y="151.5"/><use href="#st" x="263.8" y="156.5"/><use href="#st" x="271.5" y="156.5"/><use href="#st" x="278.6" y="157.6"/><use href="#st" x="288.5" y="157.0"/><use href="#st" x="301.7" y="109.3"/><use href="#st" x="306.1" y="109.7"/><use href="#st" x="315.4" y="109.1"/><use href="#st" x="317.1" y="110.8"/><use href="#st" x="315.4" y="111.9"/><use href="#st" x="325.3" y="109.1"/><use href="#st" x="330.6" y="121.0"/><use href="#st" x="335.2" y="120.7"/><use href="#st" x="344.1" y="120.1"/><use href="#st" x="306.4" y="124.3"/><use href="#st" x="316.0" y="123.2"/><use href="#st" x="318.2" y="126.2"/><use href="#st" x="320.4" y="127.8"/><use href="#st" x="342.4" y="125.6"/><use href="#st" x="345.2" y="128.4"/><use href="#st" x="333.9" y="129.8"/><use href="#st" x="301.7" y="130.0"/><use href="#st" x="304.4" y="132.8"/><use href="#st" x="319.3" y="131.7"/><use href="#st" x="316.5" y="134.4"/><use href="#st" x="329.2" y="133.9"/><use href="#st" x="331.4" y="135.5"/><use href="#st" x="347.9" y="132.8"/><use href="#st" x="343.5" y="136.6"/><use href="#st" x="346.3" y="138.8"/><use href="#st" x="340.2" y="141.0"/><use href="#st" x="344.1" y="141.6"/><use href="#st" x="347.4" y="143.2"/><use href="#st" x="301.7" y="143.5"/><use href="#st" x="316.3" y="143.0"/><use href="#st" x="317.6" y="146.5"/><use href="#st" x="329.2" y="146.5"/><use href="#st" x="330.8" y="148.7"/><use href="#st" x="333.0" y="149.9"/><use href="#st" x="335.2" y="149.3"/><use href="#st" x="317.6" y="150.4"/><use href="#st" x="300.6" y="150.4"/><use href="#st" x="301.7" y="153.2"/><use href="#st" x="330.8" y="152.1"/><use href="#st" x="336.3" y="155.9"/><use href="#st" x="344.6" y="154.8"/><use href="#st" x="347.9" y="153.2"/><use href="#st" x="263.2" y="158.6"/><use href="#st" x="278.1" y="158.9"/><use href="#st" x="265.4" y="162.4"/><use href="#st" x="267.6" y="163.5"/><use href="#st" x="263.0" y="161.9"/><use href="#st" x="272.0" y="165.7"/><use href="#st" x="284.7" y="162.2"/><use href="#st" x="288.5" y="163.5"/><use href="#st" x="294.1" y="160.2"/><use href="#st" x="296.3" y="163.5"/><use href="#st" x="256.1" y="169.6"/><use href="#st" x="264.3" y="168.5"/><use href="#st" x="265.4" y="171.8"/><use href="#st" x="270.9" y="172.3"/><use href="#st" x="288.0" y="168.5"/><use href="#st" x="291.9" y="171.8"/><use href="#st" x="258.3" y="174.5"/><use href="#st" x="265.4" y="175.6"/><use href="#st" x="273.7" y="174.5"/><use href="#st" x="274.8" y="176.2"/><use href="#st" x="271.5" y="176.7"/><use href="#st" x="285.2" y="175.6"/><use href="#st" x="288.5" y="174.5"/><use href="#st" x="286.3" y="178.4"/><use href="#st" x="294.1" y="177.3"/><use href="#st" x="296.3" y="175.6"/><use href="#st" x="250.6" y="175.6"/><use href="#st" x="250.6" y="181.7"/><use href="#st" x="293.0" y="183.3"/><use href="#st" x="274.8" y="183.9"/><use href="#st" x="273.7" y="185.5"/><use href="#st" x="277.0" y="185.0"/><use href="#st" x="267.6" y="184.4"/><use href="#st" x="281.9" y="183.9"/><use href="#st" x="279.7" y="187.2"/><use href="#st" x="283.0" y="187.2"/><use href="#st" x="285.8" y="187.2"/><use href="#st" x="264.3" y="187.2"/><use href="#st" x="261.6" y="189.4"/><use href="#st" x="262.1" y="191.0"/><use href="#st" x="280.8" y="190.0"/><use href="#st" x="281.9" y="192.1"/><use href="#st" x="251.1" y="191.0"/><use href="#st" x="256.1" y="191.0"/><use href="#st" x="264.3" y="194.3"/><use href="#st" x="269.8" y="193.2"/><use href="#st" x="272.0" y="191.0"/><use href="#st" x="277.5" y="193.2"/><use href="#st" x="285.2" y="193.0"/><use href="#st" x="295.7" y="191.0"/><use href="#st" x="256.6" y="196.0"/><use href="#st" x="263.8" y="197.1"/><use href="#st" x="273.7" y="199.3"/><use href="#st" x="269.8" y="201.5"/><use href="#st" x="267.6" y="202.6"/><use href="#st" x="271.5" y="204.3"/><use href="#st" x="255.5" y="203.2"/><use href="#st" x="264.3" y="205.9"/><use href="#st" x="256.1" y="206.5"/><use href="#st" x="282.0" y="206.5"/><use href="#st" x="293.5" y="200.4"/><use href="#st" x="296.3" y="204.3"/><use href="#st" x="294.1" y="206.5"/><use href="#st" x="302.2" y="160.2"/><use href="#st" x="304.4" y="161.9"/><use href="#st" x="331.9" y="160.2"/><use href="#st" x="334.1" y="159.1"/><use href="#st" x="330.8" y="162.4"/><use href="#st" x="343.0" y="163.0"/><use href="#st" x="326.4" y="165.7"/><use href="#st" x="330.8" y="167.9"/><use href="#st" x="333.0" y="168.5"/><use href="#st" x="335.2" y="167.4"/><use href="#st" x="303.3" y="167.4"/><use href="#st" x="316.5" y="170.1"/><use href="#st" x="324.2" y="172.9"/><use href="#st" x="344.1" y="170.1"/><use href="#st" x="304.4" y="177.8"/><use href="#st" x="303.3" y="180.0"/><use href="#st" x="323.1" y="179.5"/><use href="#st" x="321.5" y="181.7"/><use href="#st" x="319.8" y="182.8"/><use href="#st" x="314.3" y="184.4"/><use href="#st" x="317.1" y="186.6"/><use href="#st" x="317.6" y="189.4"/><use href="#st" x="319.8" y="188.8"/><use href="#st" x="328.6" y="183.9"/><use href="#st" x="309.9" y="187.7"/><use href="#st" x="345.2" y="185.0"/><use href="#st" x="348.5" y="189.4"/><use href="#st" x="336.3" y="191.0"/><use href="#st" x="304.4" y="191.0"/><use href="#st" x="318.7" y="194.3"/><use href="#st" x="323.1" y="191.0"/><use href="#st" x="327.5" y="193.2"/><use href="#st" x="329.7" y="192.1"/><use href="#st" x="334.1" y="194.3"/><use href="#st" x="308.8" y="197.1"/><use href="#st" x="324.2" y="196.5"/><use href="#st" x="328.6" y="196.0"/><use href="#st" x="333.0" y="198.7"/><use href="#st" x="338.5" y="198.2"/><use href="#st" x="341.9" y="201.0"/><use href="#st" x="329.2" y="206.5"/><use href="#st" x="302.2" y="202.1"/><use href="#st" x="305.5" y="204.3"/><use href="#st" x="309.9" y="203.2"/><use href="#st" x="312.7" y="204.3"/><use href="#st" x="304.4" y="206.5"/><use href="#st" x="308.8" y="207.0"/><use href="#st" x="324.2" y="207.0"/><use href="#st" x="255.5" y="209.7"/><use href="#st" x="259.9" y="209.7"/><use href="#st" x="252.2" y="214.6"/><use href="#st" x="255.5" y="213.0"/><use href="#st" x="261.0" y="215.7"/><use href="#st" x="265.4" y="213.0"/><use href="#st" x="251.1" y="220.7"/><use href="#st" x="264.3" y="220.1"/><use href="#st" x="267.6" y="219.6"/><use href="#st" x="272.0" y="221.2"/><use href="#st" x="275.3" y="220.1"/><use href="#st" x="262.7" y="225.6"/><use href="#st" x="269.8" y="225.1"/><use href="#st" x="276.4" y="223.4"/><use href="#st" x="279.2" y="224.5"/><use href="#st" x="283.0" y="221.2"/><use href="#st" x="285.2" y="219.0"/><use href="#st" x="252.2" y="228.4"/><use href="#st" x="264.3" y="228.4"/><use href="#st" x="273.1" y="227.3"/><use href="#st" x="279.7" y="227.8"/><use href="#st" x="283.0" y="230.6"/><use href="#st" x="287.4" y="230.0"/><use href="#st" x="289.6" y="231.7"/><use href="#st" x="272.0" y="231.7"/><use href="#st" x="274.8" y="233.3"/><use href="#st" x="273.1" y="235.5"/><use href="#st" x="276.4" y="236.1"/><use href="#st" x="263.8" y="237.2"/><use href="#st" x="252.8" y="239.4"/><use href="#st" x="281.9" y="237.2"/><use href="#st" x="284.1" y="238.3"/><use href="#st" x="287.4" y="237.7"/><use href="#st" x="269.8" y="242.1"/><use href="#st" x="273.7" y="241.0"/><use href="#st" x="275.9" y="241.6"/><use href="#st" x="278.1" y="242.1"/><use href="#st" x="280.3" y="243.2"/><use href="#st" x="281.9" y="241.0"/><use href="#st" x="252.2" y="243.2"/><use href="#st" x="256.1" y="243.2"/><use href="#st" x="263.2" y="243.2"/><use href="#st" x="272.0" y="244.9"/><use href="#st" x="275.3" y="245.4"/><use href="#st" x="278.6" y="246.0"/><use href="#st" x="281.9" y="246.5"/><use href="#st" x="252.2" y="248.7"/><use href="#st" x="256.6" y="249.9"/><use href="#st" x="264.3" y="249.3"/><use href="#st" x="274.2" y="248.7"/><use href="#st" x="277.5" y="249.9"/><use href="#st" x="280.8" y="248.7"/><use href="#st" x="287.4" y="247.6"/><use href="#st" x="289.6" y="251.0"/><use href="#st" x="263.2" y="253.2"/><use href="#st" x="266.5" y="254.3"/><use href="#st" x="269.8" y="252.1"/><use href="#st" x="272.0" y="255.4"/><use href="#st" x="275.3" y="253.7"/><use href="#st" x="253.3" y="254.3"/><use href="#st" x="257.7" y="255.4"/><use href="#st" x="294.1" y="216.8"/><use href="#st" x="295.2" y="220.1"/><use href="#st" x="293.0" y="222.3"/><use href="#st" x="297.4" y="222.3"/><use href="#st" x="298.5" y="226.2"/><use href="#st" x="296.3" y="228.9"/><use href="#st" x="298.5" y="230.0"/><use href="#st" x="287.4" y="254.3"/><use href="#st" x="294.1" y="253.2"/><use href="#st" x="297.4" y="255.4"/><use href="#st" x="285.2" y="214.1"/><use href="#st" x="283.0" y="211.3"/><use href="#st" x="305.5" y="209.1"/><use href="#st" x="307.7" y="210.2"/><use href="#st" x="318.7" y="210.8"/><use href="#st" x="324.2" y="208.6"/><use href="#st" x="339.6" y="210.8"/><use href="#st" x="301.1" y="213.5"/><use href="#st" x="301.7" y="217.9"/><use href="#st" x="301.1" y="222.3"/><use href="#st" x="305.5" y="215.7"/><use href="#st" x="318.2" y="217.9"/><use href="#st" x="324.2" y="217.9"/><use href="#st" x="330.3" y="215.2"/><use href="#st" x="329.7" y="221.2"/><use href="#st" x="336.3" y="222.3"/><use href="#st" x="338.0" y="221.2"/><use href="#st" x="325.3" y="225.1"/><use href="#st" x="308.3" y="227.3"/><use href="#st" x="311.0" y="229.5"/><use href="#st" x="306.1" y="231.1"/><use href="#st" x="317.1" y="232.8"/><use href="#st" x="320.9" y="231.7"/><use href="#st" x="328.6" y="231.1"/><use href="#st" x="322.0" y="236.6"/><use href="#st" x="325.9" y="235.0"/><use href="#st" x="316.5" y="240.5"/><use href="#st" x="317.1" y="243.2"/><use href="#st" x="306.6" y="249.3"/><use href="#st" x="309.9" y="252.1"/><use href="#st" x="305.5" y="255.4"/><use href="#st" x="314.3" y="254.3"/><use href="#st" x="252.2" y="261.3"/><use href="#st" x="254.4" y="263.5"/><use href="#st" x="256.6" y="260.2"/><use href="#st" x="258.8" y="264.6"/><use href="#st" x="253.3" y="266.8"/><use href="#st" x="256.6" y="267.9"/><use href="#st" x="261.0" y="266.8"/><use href="#st" x="264.3" y="264.6"/><use href="#st" x="266.5" y="267.9"/><use href="#st" x="268.7" y="260.2"/><use href="#st" x="270.9" y="262.4"/><use href="#st" x="266.5" y="261.3"/><use href="#st" x="276.4" y="263.5"/><use href="#st" x="275.3" y="269.0"/><use href="#st" x="273.7" y="272.3"/><use href="#st" x="277.5" y="273.4"/><use href="#st" x="289.1" y="262.4"/><use href="#st" x="295.2" y="259.1"/><use href="#st" x="297.4" y="261.3"/><use href="#st" x="283.0" y="274.5"/><use href="#st" x="286.3" y="276.7"/><use href="#st" x="288.5" y="275.6"/><use href="#st" x="285.2" y="278.9"/><use href="#st" x="252.2" y="273.4"/><use href="#st" x="254.4" y="276.7"/><use href="#st" x="258.8" y="274.5"/><use href="#st" x="263.2" y="276.7"/><use href="#st" x="265.4" y="278.9"/><use href="#st" x="262.1" y="280.0"/><use href="#st" x="275.3" y="282.8"/><use href="#st" x="269.8" y="283.3"/><use href="#st" x="263.2" y="283.9"/><use href="#st" x="278.6" y="287.7"/><use href="#st" x="281.9" y="286.6"/><use href="#st" x="251.1" y="288.8"/><use href="#st" x="253.3" y="291.0"/><use href="#st" x="252.2" y="294.3"/><use href="#st" x="255.5" y="293.2"/><use href="#st" x="264.3" y="294.3"/><use href="#st" x="268.7" y="296.5"/><use href="#st" x="266.5" y="299.9"/><use href="#st" x="272.0" y="298.7"/><use href="#st" x="253.3" y="299.9"/><use href="#st" x="256.6" y="302.1"/><use href="#st" x="252.2" y="305.4"/><use href="#st" x="261.0" y="305.4"/><use href="#st" x="264.3" y="306.5"/><use href="#st" x="275.3" y="296.5"/><use href="#st" x="306.0" y="259.9"/><use href="#st" x="302.1" y="261.0"/><use href="#st" x="301.0" y="264.3"/><use href="#st" x="257.3" y="312.3"/><use href="#st" x="255.6" y="308.8"/><use href="#st" x="199.3" y="331.4"/><use href="#st" x="173.1" y="338.7"/><use href="#st" x="151.4" y="334.8"/><use href="#st" x="160.1" y="328.2"/><use href="#st" x="153.5" y="340.6"/><use href="#st" x="157.8" y="330.7"/><use href="#st" x="173.5" y="342.6"/><use href="#st" x="154.8" y="334.5"/><use href="#st" x="183.0" y="342.8"/><use href="#st" x="199.2" y="342.4"/><use href="#st" x="166.7" y="333.9"/><use href="#st" x="171.5" y="342.8"/><use href="#st" x="207.5" y="328.9"/><use href="#st" x="160.6" y="330.4"/><use href="#st" x="164.0" y="335.2"/><use href="#st" x="185.3" y="331.0"/><use href="#st" x="150.2" y="334.0"/><use href="#st" x="172.2" y="336.8"/><use href="#st" x="207.2" y="339.1"/><use href="#st" x="180.9" y="337.7"/><use href="#st" x="190.6" y="327.0"/><use href="#st" x="204.0" y="340.8"/><use href="#st" x="202.5" y="341.2"/><use href="#st" x="173.5" y="333.6"/><use href="#st" x="156.2" y="338.1"/><use href="#st" x="153.7" y="327.3"/><use href="#st" x="162.5" y="329.1"/><use href="#st" x="170.4" y="327.0"/><use href="#st" x="150.0" y="328.9"/><use href="#st" x="156.1" y="332.9"/><use href="#st" x="151.5" y="342.6"/><use href="#st" x="186.8" y="328.8"/><use href="#st" x="165.1" y="332.6"/><use href="#st" x="171.8" y="328.3"/><use href="#st" x="200.9" y="344.9"/><use href="#st" x="178.0" y="335.2"/><use href="#st" x="155.2" y="327.9"/><use href="#st" x="170.6" y="331.0"/><use href="#st" x="199.7" y="329.1"/><use href="#st" x="151.4" y="344.1"/><use href="#st" x="131.1" y="333.9"/><use href="#st" x="131.7" y="332.4"/><use href="#st" x="131.1" y="344.7"/><use href="#st" x="144.5" y="341.1"/><use href="#st" x="120.4" y="336.8"/><use href="#st" x="185.0" y="327.3"/><use href="#st" x="196.0" y="327.3"/><use href="#st" x="189.9" y="320.7"/><use href="#st" x="204.3" y="329.8"/><use href="#st" x="205.6" y="327.7"/><use href="#st" x="204.5" y="326.9"/><use href="#st" x="186.8" y="324.2"/><use href="#st" x="190.7" y="318.3"/><use href="#st" x="180.8" y="321.4"/><use href="#st" x="187.8" y="326.3"/><use href="#st" x="208.7" y="323.4"/><use href="#st" x="208.1" y="329.9"/><use href="#st" x="208.7" y="322.4"/><use href="#st" x="186.6" y="320.7"/><use href="#st" x="185.9" y="320.5"/><use href="#st" x="213.7" y="336.0"/><use href="#st" x="220.2" y="327.6"/><use href="#st" x="214.6" y="334.0"/><use href="#st" x="197.5" y="331.2"/><use href="#st" x="222.3" y="333.6"/><use href="#st" x="217.5" y="327.6"/><use href="#st" x="200.4" y="333.8"/><use href="#st" x="205.0" y="334.0"/><use href="#st" x="224.1" y="325.9"/><use href="#st" x="207.0" y="336.9"/><use href="#st" x="216.7" y="321.4"/><use href="#st" x="198.8" y="321.0"/><use href="#st" x="222.1" y="334.1"/><use href="#st" x="199.4" y="334.5"/><use href="#st" x="224.4" y="331.1"/><use href="#st" x="205.5" y="329.0"/><use href="#st" x="198.9" y="318.3"/><use href="#st" x="224.1" y="331.0"/><use href="#st" x="210.8" y="336.7"/><use href="#st" x="208.0" y="335.4"/><use href="#st" x="190.0" y="340.7"/><use href="#st" x="163.6" y="342.9"/><use href="#st" x="163.1" y="350.8"/><use href="#st" x="163.9" y="346.3"/><use href="#st" x="158.0" y="359.6"/><use href="#st" x="168.3" y="347.4"/><use href="#st" x="178.8" y="359.4"/><use href="#st" x="171.3" y="359.8"/><use href="#st" x="175.1" y="349.4"/><use href="#st" x="176.1" y="335.5"/><use href="#st" x="172.2" y="339.9"/><use href="#st" x="152.2" y="356.6"/><use href="#st" x="159.9" y="347.8"/><use href="#st" x="185.4" y="350.0"/><use href="#st" x="167.0" y="349.0"/><use href="#st" x="177.6" y="356.2"/><use href="#st" x="156.9" y="350.1"/><use href="#st" x="163.4" y="342.5"/><use href="#st" x="187.5" y="348.7"/><use href="#st" x="177.8" y="355.5"/><use href="#st" x="194.0" y="347.0"/><use href="#st" x="180.2" y="348.6"/><use href="#st" x="180.5" y="328.9"/><use href="#st" x="178.1" y="325.7"/><use href="#st" x="179.1" y="333.8"/><use href="#st" x="188.0" y="332.5"/><use href="#st" x="197.7" y="320.2"/><use href="#st" x="182.4" y="333.9"/><use href="#st" x="193.6" y="317.7"/><use href="#st" x="164.9" y="323.8"/><use href="#st" x="162.9" y="319.8"/><use href="#st" x="162.9" y="328.4"/><use href="#st" x="191.4" y="332.9"/><use href="#st" x="166.2" y="329.3"/><use href="#st" x="186.4" y="317.9"/><use href="#st" x="195.3" y="334.4"/><use href="#st" x="168.8" y="334.1"/><use href="#st" x="291.4" y="198.5"/><use href="#st" x="289.1" y="218.5"/><use href="#st" x="290.9" y="227.0"/><use href="#st" x="290.4" y="224.1"/><use href="#st" x="291.1" y="198.5"/><use href="#st" x="300.5" y="205.3"/><use href="#st" x="300.7" y="203.6"/><use href="#st" x="289.8" y="221.2"/><use href="#st" x="332.3" y="170.1"/><use href="#st" x="332.6" y="149.3"/><use href="#st" x="330.6" y="166.1"/><use href="#st" x="327.2" y="172.2"/><use href="#st" x="323.1" y="173.0"/><use href="#st" x="332.3" y="147.3"/><use href="#st" x="266.2" y="249.7"/><use href="#st" x="279.1" y="239.4"/><use href="#st" x="271.0" y="251.1"/><use href="#st" x="268.7" y="253.5"/><use href="#st" x="273.8" y="239.1"/><use href="#st" x="271.9" y="248.3"/><use href="#st" x="248.7" y="281.9"/><use href="#st" x="244.9" y="284.9"/><use href="#st" x="247.7" y="281.1"/><use href="#st" x="251.2" y="275.4"/><use href="#st" x="248.0" y="284.7"/><use href="#st" x="255.3" y="284.6"/><use href="#st" x="250.4" y="272.3"/><use href="#st" x="243.8" y="289.3"/><use href="#st" x="334.8" y="164.0"/><use href="#st" x="329.6" y="158.9"/><use href="#st" x="338.7" y="164.1"/><use href="#st" x="333.4" y="152.1"/><use href="#st" x="331.0" y="165.4"/><use href="#st" x="330.3" y="160.8"/><use href="#st" x="312.6" y="207.1"/><use href="#st" x="317.0" y="189.9"/><use href="#st" x="300.0" y="189.4"/><use href="#st" x="308.9" y="198.4"/><use href="#st" x="317.1" y="206.8"/><use href="#st" x="300.9" y="205.3"/><use href="#st" x="154.4" y="328.1"/><use href="#st" x="188.6" y="316.7"/><use href="#st" x="179.0" y="329.9"/><use href="#st" x="194.3" y="322.4"/><use href="#st" x="173.8" y="323.8"/><use href="#st" x="159.5" y="315.8"/><use href="#st" x="159.0" y="326.0"/><use href="#st" x="168.1" y="323.3"/><use href="#st" x="170.1" y="322.3"/><use href="#st" x="157.5" y="312.9"/></g><rect x="53.4" y="8.0" width="408.5" height="410.2" fill="none" stroke="#000" stroke-width="1.2"/><path d="M53.4 418.2v-4M53.4 8.0v4M104.5 418.2v-4M104.5 8.0v4M155.5 418.2v-4M155.5 8.0v4M206.6 418.2v-4M206.6 8.0v4M257.6 418.2v-4M257.6 8.0v4M308.7 418.2v-4M308.7 8.0v4M359.8 418.2v-4M359.8 8.0v4M410.8 418.2v-4M410.8 8.0v4M461.9 418.2v-4M461.9 8.0v4M53.4 418.2h4M461.9 418.2h-4M53.4 349.8h4M461.9 349.8h-4M53.4 281.5h4M461.9 281.5h-4M53.4 213.1h4M461.9 213.1h-4M53.4 144.7h4M461.9 144.7h-4M53.4 76.4h4M461.9 76.4h-4M53.4 8.0h4M461.9 8.0h-4" stroke="#000" stroke-width="1.1"/><g font-family='"Liberation Sans", sans-serif' font-size="11.2" fill="#000"><text x="53.4" y="432.4" text-anchor="middle">0.1</text><text x="104.5" y="432.4" text-anchor="middle">0.2</text><text x="155.5" y="432.4" text-anchor="middle">0.3</text><text x="206.6" y="432.4" text-anchor="middle">0.4</text><text x="257.6" y="432.4" text-anchor="middle">0.5</text><text x="308.7" y="432.4" text-anchor="middle">0.6</text><text x="359.8" y="432.4" text-anchor="middle">0.7</text><text x="410.8" y="432.4" text-anchor="middle">0.8</text><text x="461.9" y="432.4" text-anchor="middle">0.9</text><text x="49.6" y="422.6" text-anchor="end">0.02</text><text x="49.6" y="354.2" text-anchor="end">0.04</text><text x="49.6" y="285.9" text-anchor="end">0.06</text><text x="49.6" y="217.5" text-anchor="end">0.08</text><text x="49.6" y="149.1" text-anchor="end">0.1</text><text x="49.6" y="80.8" text-anchor="end">0.12</text><text x="49.6" y="12.4" text-anchor="end">0.14</text></g><text x="173.2" y="449.8" font-family='"Liberation Sans", sans-serif' font-size="13.2" fill="#000">Vegetation Optical Depth [ <tspan font-family="Liberation Serif" style="font-family:Liberation Serif" font-size="14">τ</tspan> ]</text><text transform="translate(13.8 330) rotate(-90)" x="0" y="0" font-family='"Liberation Sans", sans-serif' font-size="13" fill="#000">STD of the Soil Moisture, σ<tspan font-size="9" dy="3">θ</tspan><tspan dy="-3"> [ m</tspan><tspan font-size="9.5" dy="-5" dx="0.5">3</tspan><tspan dy="5" dx="0.8"> m</tspan><tspan font-size="12.5" dy="-4.2" dx="0.5">−</tspan><tspan font-size="9.5" dy="-0.8" dx="0.4">3</tspan><tspan dy="5" dx="2.2"> ]</tspan></text><rect x="320.5" y="361.5" width="128.5" height="45.5" fill="#fff" stroke="#111" stroke-width="1"/><path d="M331.9 369.3h5.4M334.6 366.6v5.4" stroke="#ff0000" stroke-width="1" fill="none"/><path d="M332.0 384.2a2.6 2.6 0 1 0 5.2 0a2.6 2.6 0 1 0 -5.2 0" stroke="#0000ff" stroke-width="0.9" fill="none"/><use href="#st" x="334.6" y="398.9"/><g font-family='"Liberation Sans", sans-serif' font-size="10.0" fill="#000"><text x="349.3" y="374.2">θ</text><text x="357.9" y="374.2">&lt;</text><text x="366.8" y="374.2">0.1</text><text x="383.6" y="374.2">m</text><text x="393.2" y="370.3" font-size="7.0">3</text><text x="400.4" y="374.2">m</text><text x="409.0" y="370.3" font-size="7.0">−</text><text x="412.9" y="370.3" font-size="7.0">3</text><text x="349.3" y="402.4">θ</text><text x="357.9" y="402.4">&gt;</text><text x="366.8" y="402.4">0.2</text><text x="383.6" y="402.4">m</text><text x="393.2" y="398.5" font-size="7.0">3</text><text x="400.4" y="402.4">m</text><text x="409.0" y="398.5" font-size="7.0">−</text><text x="412.9" y="398.5" font-size="7.0">3</text><text x="349.3" y="388.4">θ</text><text x="357.5" y="388.4">=</text><text x="366.8" y="388.4">0.1</text><text x="383.9" y="388.4">−</text><text x="393.8" y="388.4">0.2</text><text x="410.8" y="388.4">m</text><text x="419.8" y="384.5" font-size="7.0">3</text><text x="426.3" y="388.4">m</text><text x="435.2" y="384.5" font-size="7.0">−</text><text x="439.3" y="384.5" font-size="7.0">3</text></g></svg></div>
</body></html>
